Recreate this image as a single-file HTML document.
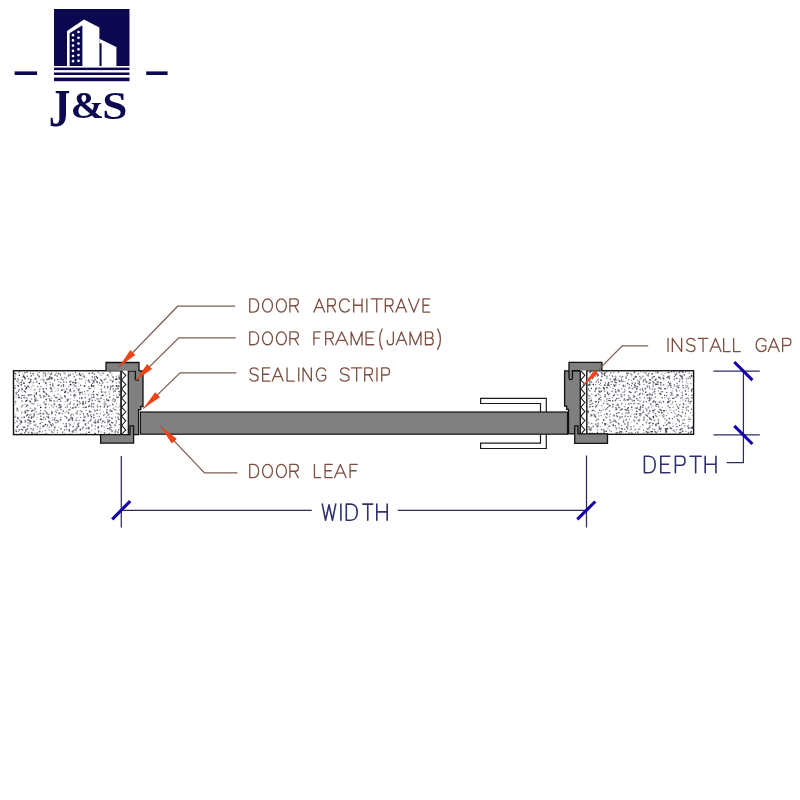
<!DOCTYPE html>
<html><head><meta charset="utf-8"><style>
html,body{margin:0;padding:0;background:#fff;}
body{width:800px;height:800px;overflow:hidden;font-family:"Liberation Sans",sans-serif;}
svg{display:block;filter:blur(0.35px);}
</style></head><body>
<svg width="800" height="800" viewBox="0 0 800 800">
<rect width="800" height="800" fill="#fff"/>
<g>
<rect x="54" y="9" width="75.5" height="57" fill="#0c0850"/>
<rect x="54" y="67.6" width="75.5" height="2.5" fill="#0c0850"/>
<rect x="54" y="72.5" width="75.5" height="2.5" fill="#0c0850"/>
<rect x="54" y="77.6" width="75.5" height="3.6" fill="#0c0850"/>
<rect x="14.6" y="71.4" width="22.5" height="3.6" fill="#0c0850"/>
<rect x="146.2" y="71.4" width="21.4" height="3.6" fill="#0c0850"/>
<path fill="#fff" d="M67,66.2 L67,31 L84,19.6 L99.4,27.6 L99.4,66.2 Z"/>
<path fill="#0c0850" d="M69.6,66 L69.6,33.2 L82.4,25.2 L82.4,66 Z"/>
<path fill="#fff" d="M99.4,66.2 L99.4,38.8 L116.4,47 L116.4,66.2 Z"/>
<path fill="#0c0850" d="M99.6,66 L99.6,43 L101.6,43.6 L101.6,66 Z"/>
<path fill="#fff" d="M71.65,35.20a1.35,1.35 0 1 0 2.7,0a1.35,1.35 0 1 0 -2.7,0M77.15,32.00a1.35,1.35 0 1 0 2.7,0a1.35,1.35 0 1 0 -2.7,0M71.65,40.40a1.35,1.35 0 1 0 2.7,0a1.35,1.35 0 1 0 -2.7,0M77.15,37.76a1.35,1.35 0 1 0 2.7,0a1.35,1.35 0 1 0 -2.7,0M71.65,45.60a1.35,1.35 0 1 0 2.7,0a1.35,1.35 0 1 0 -2.7,0M77.15,43.52a1.35,1.35 0 1 0 2.7,0a1.35,1.35 0 1 0 -2.7,0M71.65,50.80a1.35,1.35 0 1 0 2.7,0a1.35,1.35 0 1 0 -2.7,0M77.15,49.28a1.35,1.35 0 1 0 2.7,0a1.35,1.35 0 1 0 -2.7,0M71.65,56.00a1.35,1.35 0 1 0 2.7,0a1.35,1.35 0 1 0 -2.7,0M77.15,55.04a1.35,1.35 0 1 0 2.7,0a1.35,1.35 0 1 0 -2.7,0M71.65,61.20a1.35,1.35 0 1 0 2.7,0a1.35,1.35 0 1 0 -2.7,0M77.15,60.80a1.35,1.35 0 1 0 2.7,0a1.35,1.35 0 1 0 -2.7,0"/><g fill="#0c0850" font-family="Liberation Serif" font-weight="bold" font-size="100"><text transform="translate(48.87,126.06) scale(0.4326,0.524)">J</text><text transform="translate(70.71,118.01) scale(0.3986,0.3694)">&amp;</text><text transform="translate(102.34,118.5) scale(0.452,0.403)">S</text></g></g><rect x="13.5" y="370.75" width="107.5" height="63.85" fill="#fff" stroke="#111" stroke-width="1.4"/><path fill="none" stroke="#28283c" stroke-width="1.4" stroke-linecap="round" stroke-opacity="0.75" d="M15.9,373.9L14.4,373.0M18.5,386.2L17.8,385.3M18.3,418.8L17.4,417.3M21.9,388.4L22.3,389.4M21.4,429.4L22.9,429.9M20.7,434.2L21.3,433.4M25.4,378.2L24.9,379.0M25.5,392.1L24.2,390.9M24.7,427.3L23.1,427.1M25.9,431.3L25.8,429.6M28.3,395.5L29.4,394.7M27.6,405.1L26.7,406.0M27.0,410.3L28.5,410.8M27.9,414.4L26.6,415.7M27.8,419.8L29.5,420.3M29.8,401.1L30.6,401.9M32.7,410.3L31.4,411.1M31.4,418.3L31.8,416.8M31.0,421.2L29.8,421.5M31.7,432.5L32.4,434.1M35.1,379.1L35.4,378.1M34.6,396.8L34.3,395.5M35.5,400.3L34.9,401.4M34.4,414.0L34.1,415.2M39.2,377.1L39.0,376.0M40.5,419.0L41.8,419.5M44.9,396.4L43.6,395.9M42.9,426.7L44.0,425.5M47.9,379.0L46.8,379.7M46.0,393.4L46.9,394.9M46.7,412.4L46.9,413.7M49.8,378.4L48.5,379.3M49.8,400.6L51.1,400.5M48.9,418.1L48.1,416.7M50.8,374.6L51.6,373.2M51.3,378.9L52.5,378.0M52.8,384.9L52.9,386.0M50.8,388.1L51.6,389.3M52.2,412.6L51.7,413.7M51.7,426.0L50.8,424.6M55.6,397.5L57.1,397.6M57.9,385.6L59.1,384.9M58.5,399.4L59.8,399.3M59.5,404.3L59.0,405.4M58.1,421.2L56.8,420.4M63.4,384.6L63.6,386.2M68.1,399.8L67.3,400.9M69.7,382.0L70.8,381.2M70.9,390.9L69.5,390.9M69.4,429.5L69.2,431.2M73.9,382.6L72.5,382.5M74.8,394.4L73.7,395.6M73.7,407.9L72.3,408.0M72.6,420.3L72.1,419.1M72.1,431.7L73.3,432.1M75.3,380.5L75.9,379.2M77.5,405.4L77.5,404.3M76.3,428.8L75.9,430.1M81.0,375.5L79.4,374.7M78.3,390.4L79.1,389.1M80.4,392.7L79.4,392.2M78.7,426.4L78.2,425.2M80.7,429.2L80.1,430.2M83.2,403.1L83.3,401.5M83.1,404.8L82.6,403.4M83.9,419.8L83.1,420.9M85.0,407.2L86.4,407.3M84.0,417.4L85.2,416.9M85.2,424.9L85.6,423.6M88.7,379.9L88.3,380.9M89.8,399.8L89.1,399.0M88.4,401.8L89.2,401.2M89.4,411.1L90.0,412.2M88.5,432.4L89.5,432.2M94.9,379.0L95.1,380.0M94.0,382.2L93.3,380.7M94.0,385.8L93.1,386.4M94.3,422.4L95.7,423.0M97.1,377.6L96.3,376.4M96.7,381.5L97.5,382.5M96.6,394.4L97.9,395.0M98.5,422.6L97.4,422.0M98.6,426.5L98.0,427.4M98.5,432.0L98.8,431.0M101.9,381.0L100.7,379.8M100.5,420.0L101.0,419.0M104.6,406.0L104.2,407.0M106.9,400.1L108.3,400.7M107.3,407.1L108.0,406.0M106.8,412.0L107.0,413.5M110.7,386.2L110.9,387.2M108.5,421.8L109.7,420.6M109.9,427.7L110.0,429.5M112.9,376.9L113.4,377.7M112.3,382.1L113.2,380.9M112.1,411.6L111.2,410.8M112.8,422.9L111.6,422.5M119.5,377.5L119.2,379.1M120.4,391.4L118.9,391.8M119.9,394.0L119.4,395.0M118.3,397.2L116.9,397.5M119.1,419.4L118.1,418.9"/><path fill="#28283c" fill-opacity="0.5" d="M14.3,376.0a0.7,0.7 0 1 0 1.4,0a0.7,0.7 0 1 0 -1.4,0M14.5,385.8a0.7,0.7 0 1 0 1.4,0a0.7,0.7 0 1 0 -1.4,0M15.3,394.0a0.95,0.95 0 1 0 1.9,0a0.95,0.95 0 1 0 -1.9,0M14.6,401.8a0.95,0.95 0 1 0 1.9,0a0.95,0.95 0 1 0 -1.9,0M14.4,403.9a0.6,0.6 0 1 0 1.2,0a0.6,0.6 0 1 0 -1.2,0M15.1,414.8a0.6,0.6 0 1 0 1.2,0a0.6,0.6 0 1 0 -1.2,0M14.2,416.9a0.95,0.95 0 1 0 1.9,0a0.95,0.95 0 1 0 -1.9,0M14.5,422.8a0.7,0.7 0 1 0 1.4,0a0.7,0.7 0 1 0 -1.4,0M15.0,430.5a0.95,0.95 0 1 0 1.9,0a0.95,0.95 0 1 0 -1.9,0M17.7,410.1a0.7,0.7 0 1 0 1.4,0a0.7,0.7 0 1 0 -1.4,0M18.9,420.1a0.7,0.7 0 1 0 1.4,0a0.7,0.7 0 1 0 -1.4,0M19.3,423.9a0.85,0.85 0 1 0 1.7,0a0.85,0.85 0 1 0 -1.7,0M21.3,390.7a0.6,0.6 0 1 0 1.2,0a0.6,0.6 0 1 0 -1.2,0M20.6,406.7a0.85,0.85 0 1 0 1.7,0a0.85,0.85 0 1 0 -1.7,0M21.3,412.0a0.7,0.7 0 1 0 1.4,0a0.7,0.7 0 1 0 -1.4,0M20.9,413.1a0.8,0.8 0 1 0 1.6,0a0.8,0.8 0 1 0 -1.6,0M21.1,417.5a0.85,0.85 0 1 0 1.7,0a0.85,0.85 0 1 0 -1.7,0M24.0,372.7a0.95,0.95 0 1 0 1.9,0a0.95,0.95 0 1 0 -1.9,0M24.3,404.5a0.7,0.7 0 1 0 1.4,0a0.7,0.7 0 1 0 -1.4,0M26.4,376.2a0.85,0.85 0 1 0 1.7,0a0.85,0.85 0 1 0 -1.7,0M27.6,378.8a0.95,0.95 0 1 0 1.9,0a0.95,0.95 0 1 0 -1.9,0M28.5,387.7a0.6,0.6 0 1 0 1.2,0a0.6,0.6 0 1 0 -1.2,0M26.1,398.2a0.85,0.85 0 1 0 1.7,0a0.85,0.85 0 1 0 -1.7,0M27.2,422.9a0.8,0.8 0 1 0 1.6,0a0.8,0.8 0 1 0 -1.6,0M30.5,389.0a0.6,0.6 0 1 0 1.2,0a0.6,0.6 0 1 0 -1.2,0M30.8,399.1a0.85,0.85 0 1 0 1.7,0a0.85,0.85 0 1 0 -1.7,0M31.0,403.5a0.6,0.6 0 1 0 1.2,0a0.6,0.6 0 1 0 -1.2,0M32.6,375.2a0.6,0.6 0 1 0 1.2,0a0.6,0.6 0 1 0 -1.2,0M32.6,382.6a0.85,0.85 0 1 0 1.7,0a0.85,0.85 0 1 0 -1.7,0M34.0,399.2a0.85,0.85 0 1 0 1.7,0a0.85,0.85 0 1 0 -1.7,0M33.2,410.1a0.85,0.85 0 1 0 1.7,0a0.85,0.85 0 1 0 -1.7,0M33.5,422.1a0.6,0.6 0 1 0 1.2,0a0.6,0.6 0 1 0 -1.2,0M35.3,379.1a0.95,0.95 0 1 0 1.9,0a0.95,0.95 0 1 0 -1.9,0M36.9,386.6a0.85,0.85 0 1 0 1.7,0a0.85,0.85 0 1 0 -1.7,0M35.1,398.3a0.85,0.85 0 1 0 1.7,0a0.85,0.85 0 1 0 -1.7,0M37.1,405.2a0.8,0.8 0 1 0 1.6,0a0.8,0.8 0 1 0 -1.6,0M35.2,411.8a0.85,0.85 0 1 0 1.7,0a0.85,0.85 0 1 0 -1.7,0M36.5,417.2a0.6,0.6 0 1 0 1.2,0a0.6,0.6 0 1 0 -1.2,0M35.5,424.2a0.6,0.6 0 1 0 1.2,0a0.6,0.6 0 1 0 -1.2,0M38.3,372.7a0.8,0.8 0 1 0 1.6,0a0.8,0.8 0 1 0 -1.6,0M38.9,389.1a0.85,0.85 0 1 0 1.7,0a0.85,0.85 0 1 0 -1.7,0M38.5,391.3a0.95,0.95 0 1 0 1.9,0a0.95,0.95 0 1 0 -1.9,0M39.9,397.2a0.95,0.95 0 1 0 1.9,0a0.95,0.95 0 1 0 -1.9,0M39.6,404.9a0.6,0.6 0 1 0 1.2,0a0.6,0.6 0 1 0 -1.2,0M42.6,373.1a0.85,0.85 0 1 0 1.7,0a0.85,0.85 0 1 0 -1.7,0M42.6,376.0a0.7,0.7 0 1 0 1.4,0a0.7,0.7 0 1 0 -1.4,0M43.2,381.7a0.8,0.8 0 1 0 1.6,0a0.8,0.8 0 1 0 -1.6,0M42.6,397.6a0.7,0.7 0 1 0 1.4,0a0.7,0.7 0 1 0 -1.4,0M43.4,404.0a0.7,0.7 0 1 0 1.4,0a0.7,0.7 0 1 0 -1.4,0M45.4,401.1a0.6,0.6 0 1 0 1.2,0a0.6,0.6 0 1 0 -1.2,0M44.2,411.0a0.95,0.95 0 1 0 1.9,0a0.95,0.95 0 1 0 -1.9,0M45.9,417.0a0.8,0.8 0 1 0 1.6,0a0.8,0.8 0 1 0 -1.6,0M44.5,430.6a0.8,0.8 0 1 0 1.6,0a0.8,0.8 0 1 0 -1.6,0M49.5,387.6a0.95,0.95 0 1 0 1.9,0a0.95,0.95 0 1 0 -1.9,0M48.6,399.0a0.95,0.95 0 1 0 1.9,0a0.95,0.95 0 1 0 -1.9,0M48.1,404.2a0.6,0.6 0 1 0 1.2,0a0.6,0.6 0 1 0 -1.2,0M49.1,407.8a0.6,0.6 0 1 0 1.2,0a0.6,0.6 0 1 0 -1.2,0M48.4,427.2a0.8,0.8 0 1 0 1.6,0a0.8,0.8 0 1 0 -1.6,0M51.9,383.5a0.8,0.8 0 1 0 1.6,0a0.8,0.8 0 1 0 -1.6,0M51.1,405.4a0.8,0.8 0 1 0 1.6,0a0.8,0.8 0 1 0 -1.6,0M52.5,407.1a0.8,0.8 0 1 0 1.6,0a0.8,0.8 0 1 0 -1.6,0M50.9,411.6a0.85,0.85 0 1 0 1.7,0a0.85,0.85 0 1 0 -1.7,0M52.0,417.7a0.6,0.6 0 1 0 1.2,0a0.6,0.6 0 1 0 -1.2,0M50.7,430.7a0.6,0.6 0 1 0 1.2,0a0.6,0.6 0 1 0 -1.2,0M53.5,380.0a0.95,0.95 0 1 0 1.9,0a0.95,0.95 0 1 0 -1.9,0M55.3,391.1a0.6,0.6 0 1 0 1.2,0a0.6,0.6 0 1 0 -1.2,0M53.3,400.9a0.95,0.95 0 1 0 1.9,0a0.95,0.95 0 1 0 -1.9,0M54.3,418.0a0.85,0.85 0 1 0 1.7,0a0.85,0.85 0 1 0 -1.7,0M53.5,429.7a0.85,0.85 0 1 0 1.7,0a0.85,0.85 0 1 0 -1.7,0M56.2,375.9a0.95,0.95 0 1 0 1.9,0a0.95,0.95 0 1 0 -1.9,0M57.8,381.7a0.7,0.7 0 1 0 1.4,0a0.7,0.7 0 1 0 -1.4,0M57.4,388.7a0.6,0.6 0 1 0 1.2,0a0.6,0.6 0 1 0 -1.2,0M57.8,390.7a0.6,0.6 0 1 0 1.2,0a0.6,0.6 0 1 0 -1.2,0M57.7,394.3a0.8,0.8 0 1 0 1.6,0a0.8,0.8 0 1 0 -1.6,0M56.4,401.0a0.85,0.85 0 1 0 1.7,0a0.85,0.85 0 1 0 -1.7,0M56.4,410.1a0.8,0.8 0 1 0 1.6,0a0.8,0.8 0 1 0 -1.6,0M57.3,422.7a0.6,0.6 0 1 0 1.2,0a0.6,0.6 0 1 0 -1.2,0M58.5,427.5a0.6,0.6 0 1 0 1.2,0a0.6,0.6 0 1 0 -1.2,0M59.9,375.5a0.6,0.6 0 1 0 1.2,0a0.6,0.6 0 1 0 -1.2,0M59.8,382.5a0.8,0.8 0 1 0 1.6,0a0.8,0.8 0 1 0 -1.6,0M59.7,401.2a0.85,0.85 0 1 0 1.7,0a0.85,0.85 0 1 0 -1.7,0M59.9,409.5a0.95,0.95 0 1 0 1.9,0a0.95,0.95 0 1 0 -1.9,0M61.3,413.5a0.85,0.85 0 1 0 1.7,0a0.85,0.85 0 1 0 -1.7,0M59.8,417.4a0.7,0.7 0 1 0 1.4,0a0.7,0.7 0 1 0 -1.4,0M63.9,377.4a0.6,0.6 0 1 0 1.2,0a0.6,0.6 0 1 0 -1.2,0M62.8,381.9a0.85,0.85 0 1 0 1.7,0a0.85,0.85 0 1 0 -1.7,0M64.3,397.1a0.95,0.95 0 1 0 1.9,0a0.95,0.95 0 1 0 -1.9,0M64.7,401.7a0.6,0.6 0 1 0 1.2,0a0.6,0.6 0 1 0 -1.2,0M63.6,404.5a0.6,0.6 0 1 0 1.2,0a0.6,0.6 0 1 0 -1.2,0M64.5,412.7a0.6,0.6 0 1 0 1.2,0a0.6,0.6 0 1 0 -1.2,0M62.7,423.5a0.7,0.7 0 1 0 1.4,0a0.7,0.7 0 1 0 -1.4,0M65.4,378.1a0.95,0.95 0 1 0 1.9,0a0.95,0.95 0 1 0 -1.9,0M65.5,382.2a0.85,0.85 0 1 0 1.7,0a0.85,0.85 0 1 0 -1.7,0M67.9,386.1a0.7,0.7 0 1 0 1.4,0a0.7,0.7 0 1 0 -1.4,0M67.1,392.6a0.85,0.85 0 1 0 1.7,0a0.85,0.85 0 1 0 -1.7,0M66.4,399.4a0.95,0.95 0 1 0 1.9,0a0.95,0.95 0 1 0 -1.9,0M66.0,411.6a0.8,0.8 0 1 0 1.6,0a0.8,0.8 0 1 0 -1.6,0M65.8,429.4a0.85,0.85 0 1 0 1.7,0a0.85,0.85 0 1 0 -1.7,0M69.8,373.9a0.7,0.7 0 1 0 1.4,0a0.7,0.7 0 1 0 -1.4,0M69.7,407.3a0.6,0.6 0 1 0 1.2,0a0.6,0.6 0 1 0 -1.2,0M69.0,425.7a0.8,0.8 0 1 0 1.6,0a0.8,0.8 0 1 0 -1.6,0M69.6,433.6a0.7,0.7 0 1 0 1.4,0a0.7,0.7 0 1 0 -1.4,0M72.4,374.2a0.7,0.7 0 1 0 1.4,0a0.7,0.7 0 1 0 -1.4,0M72.2,388.0a0.6,0.6 0 1 0 1.2,0a0.6,0.6 0 1 0 -1.2,0M73.6,397.0a0.85,0.85 0 1 0 1.7,0a0.85,0.85 0 1 0 -1.7,0M73.2,400.5a0.6,0.6 0 1 0 1.2,0a0.6,0.6 0 1 0 -1.2,0M73.6,422.8a0.6,0.6 0 1 0 1.2,0a0.6,0.6 0 1 0 -1.2,0M76.1,375.0a0.85,0.85 0 1 0 1.7,0a0.85,0.85 0 1 0 -1.7,0M76.4,388.6a0.6,0.6 0 1 0 1.2,0a0.6,0.6 0 1 0 -1.2,0M74.5,395.6a0.95,0.95 0 1 0 1.9,0a0.95,0.95 0 1 0 -1.9,0M76.3,418.0a0.7,0.7 0 1 0 1.4,0a0.7,0.7 0 1 0 -1.4,0M76.8,424.2a0.85,0.85 0 1 0 1.7,0a0.85,0.85 0 1 0 -1.7,0M78.2,383.1a0.6,0.6 0 1 0 1.2,0a0.6,0.6 0 1 0 -1.2,0M78.4,401.8a0.95,0.95 0 1 0 1.9,0a0.95,0.95 0 1 0 -1.9,0M78.1,407.1a0.7,0.7 0 1 0 1.4,0a0.7,0.7 0 1 0 -1.4,0M79.6,410.9a0.8,0.8 0 1 0 1.6,0a0.8,0.8 0 1 0 -1.6,0M79.3,414.3a0.8,0.8 0 1 0 1.6,0a0.8,0.8 0 1 0 -1.6,0M77.8,423.2a0.95,0.95 0 1 0 1.9,0a0.95,0.95 0 1 0 -1.9,0M79.8,433.5a0.6,0.6 0 1 0 1.2,0a0.6,0.6 0 1 0 -1.2,0M80.9,379.0a0.85,0.85 0 1 0 1.7,0a0.85,0.85 0 1 0 -1.7,0M81.0,411.7a0.85,0.85 0 1 0 1.7,0a0.85,0.85 0 1 0 -1.7,0M82.2,428.9a0.6,0.6 0 1 0 1.2,0a0.6,0.6 0 1 0 -1.2,0M82.2,433.6a0.6,0.6 0 1 0 1.2,0a0.6,0.6 0 1 0 -1.2,0M85.2,380.4a0.7,0.7 0 1 0 1.4,0a0.7,0.7 0 1 0 -1.4,0M84.7,382.8a0.8,0.8 0 1 0 1.6,0a0.8,0.8 0 1 0 -1.6,0M83.6,391.5a0.8,0.8 0 1 0 1.6,0a0.8,0.8 0 1 0 -1.6,0M84.4,394.0a0.7,0.7 0 1 0 1.4,0a0.7,0.7 0 1 0 -1.4,0M85.1,401.6a0.8,0.8 0 1 0 1.6,0a0.8,0.8 0 1 0 -1.6,0M85.5,410.4a0.7,0.7 0 1 0 1.4,0a0.7,0.7 0 1 0 -1.4,0M85.9,425.5a0.6,0.6 0 1 0 1.2,0a0.6,0.6 0 1 0 -1.2,0M85.5,428.5a0.95,0.95 0 1 0 1.9,0a0.95,0.95 0 1 0 -1.9,0M87.6,394.8a0.85,0.85 0 1 0 1.7,0a0.85,0.85 0 1 0 -1.7,0M91.1,379.8a0.8,0.8 0 1 0 1.6,0a0.8,0.8 0 1 0 -1.6,0M90.1,388.4a0.7,0.7 0 1 0 1.4,0a0.7,0.7 0 1 0 -1.4,0M92.1,392.8a0.6,0.6 0 1 0 1.2,0a0.6,0.6 0 1 0 -1.2,0M90.6,394.8a0.8,0.8 0 1 0 1.6,0a0.8,0.8 0 1 0 -1.6,0M91.2,400.5a0.95,0.95 0 1 0 1.9,0a0.95,0.95 0 1 0 -1.9,0M90.0,419.5a0.95,0.95 0 1 0 1.9,0a0.95,0.95 0 1 0 -1.9,0M91.0,430.6a0.6,0.6 0 1 0 1.2,0a0.6,0.6 0 1 0 -1.2,0M93.6,388.0a0.6,0.6 0 1 0 1.2,0a0.6,0.6 0 1 0 -1.2,0M94.3,400.4a0.8,0.8 0 1 0 1.6,0a0.8,0.8 0 1 0 -1.6,0M92.6,404.0a0.95,0.95 0 1 0 1.9,0a0.95,0.95 0 1 0 -1.9,0M92.6,406.9a0.85,0.85 0 1 0 1.7,0a0.85,0.85 0 1 0 -1.7,0M94.3,429.1a0.8,0.8 0 1 0 1.6,0a0.8,0.8 0 1 0 -1.6,0M98.1,392.3a0.6,0.6 0 1 0 1.2,0a0.6,0.6 0 1 0 -1.2,0M97.3,401.1a0.8,0.8 0 1 0 1.6,0a0.8,0.8 0 1 0 -1.6,0M96.7,404.9a0.6,0.6 0 1 0 1.2,0a0.6,0.6 0 1 0 -1.2,0M97.5,428.8a0.8,0.8 0 1 0 1.6,0a0.8,0.8 0 1 0 -1.6,0M99.1,373.8a0.7,0.7 0 1 0 1.4,0a0.7,0.7 0 1 0 -1.4,0M100.3,389.6a0.95,0.95 0 1 0 1.9,0a0.95,0.95 0 1 0 -1.9,0M99.8,413.5a0.7,0.7 0 1 0 1.4,0a0.7,0.7 0 1 0 -1.4,0M98.7,416.6a0.8,0.8 0 1 0 1.6,0a0.8,0.8 0 1 0 -1.6,0M101.1,423.0a0.7,0.7 0 1 0 1.4,0a0.7,0.7 0 1 0 -1.4,0M103.2,399.4a0.7,0.7 0 1 0 1.4,0a0.7,0.7 0 1 0 -1.4,0M104.0,401.7a0.85,0.85 0 1 0 1.7,0a0.85,0.85 0 1 0 -1.7,0M102.7,411.9a0.7,0.7 0 1 0 1.4,0a0.7,0.7 0 1 0 -1.4,0M103.3,427.1a0.8,0.8 0 1 0 1.6,0a0.8,0.8 0 1 0 -1.6,0M103.8,430.5a0.6,0.6 0 1 0 1.2,0a0.6,0.6 0 1 0 -1.2,0M106.6,382.2a0.8,0.8 0 1 0 1.6,0a0.8,0.8 0 1 0 -1.6,0M105.5,395.9a0.7,0.7 0 1 0 1.4,0a0.7,0.7 0 1 0 -1.4,0M105.4,403.7a0.7,0.7 0 1 0 1.4,0a0.7,0.7 0 1 0 -1.4,0M109.1,372.3a0.95,0.95 0 1 0 1.9,0a0.95,0.95 0 1 0 -1.9,0M107.9,400.3a0.95,0.95 0 1 0 1.9,0a0.95,0.95 0 1 0 -1.9,0M108.4,417.3a0.85,0.85 0 1 0 1.7,0a0.85,0.85 0 1 0 -1.7,0M111.2,380.5a0.6,0.6 0 1 0 1.2,0a0.6,0.6 0 1 0 -1.2,0M111.1,431.6a0.95,0.95 0 1 0 1.9,0a0.95,0.95 0 1 0 -1.9,0M115.7,376.5a0.7,0.7 0 1 0 1.4,0a0.7,0.7 0 1 0 -1.4,0M115.7,383.1a0.7,0.7 0 1 0 1.4,0a0.7,0.7 0 1 0 -1.4,0M116.2,394.9a0.6,0.6 0 1 0 1.2,0a0.6,0.6 0 1 0 -1.2,0M116.0,403.4a0.6,0.6 0 1 0 1.2,0a0.6,0.6 0 1 0 -1.2,0M115.5,406.8a0.7,0.7 0 1 0 1.4,0a0.7,0.7 0 1 0 -1.4,0M116.2,413.5a0.7,0.7 0 1 0 1.4,0a0.7,0.7 0 1 0 -1.4,0M115.5,423.2a0.6,0.6 0 1 0 1.2,0a0.6,0.6 0 1 0 -1.2,0M119.3,374.0a0.6,0.6 0 1 0 1.2,0a0.6,0.6 0 1 0 -1.2,0M119.3,404.8a0.7,0.7 0 1 0 1.4,0a0.7,0.7 0 1 0 -1.4,0M118.8,410.1a0.6,0.6 0 1 0 1.2,0a0.6,0.6 0 1 0 -1.2,0M117.0,417.1a0.95,0.95 0 1 0 1.9,0a0.95,0.95 0 1 0 -1.9,0M118.5,424.5a0.85,0.85 0 1 0 1.7,0a0.85,0.85 0 1 0 -1.7,0M119.3,427.5a0.6,0.6 0 1 0 1.2,0a0.6,0.6 0 1 0 -1.2,0"/><path fill="#28283c" fill-opacity="0.75" d="M14.2,378.7a0.95,0.95 0 1 0 1.9,0a0.95,0.95 0 1 0 -1.9,0M15.4,397.0a0.6,0.6 0 1 0 1.2,0a0.6,0.6 0 1 0 -1.2,0M16.4,408.4a0.8,0.8 0 1 0 1.6,0a0.8,0.8 0 1 0 -1.6,0M16.2,426.9a0.95,0.95 0 1 0 1.9,0a0.95,0.95 0 1 0 -1.9,0M18.3,389.8a0.8,0.8 0 1 0 1.6,0a0.8,0.8 0 1 0 -1.6,0M17.9,391.2a0.7,0.7 0 1 0 1.4,0a0.7,0.7 0 1 0 -1.4,0M17.6,395.1a0.8,0.8 0 1 0 1.6,0a0.8,0.8 0 1 0 -1.6,0M17.5,425.5a0.7,0.7 0 1 0 1.4,0a0.7,0.7 0 1 0 -1.4,0M18.5,429.8a0.85,0.85 0 1 0 1.7,0a0.85,0.85 0 1 0 -1.7,0M17.5,431.5a0.6,0.6 0 1 0 1.2,0a0.6,0.6 0 1 0 -1.2,0M21.6,377.0a0.6,0.6 0 1 0 1.2,0a0.6,0.6 0 1 0 -1.2,0M21.4,380.4a0.85,0.85 0 1 0 1.7,0a0.85,0.85 0 1 0 -1.7,0M20.4,382.5a0.85,0.85 0 1 0 1.7,0a0.85,0.85 0 1 0 -1.7,0M20.3,384.7a0.95,0.95 0 1 0 1.9,0a0.95,0.95 0 1 0 -1.9,0M21.2,395.5a0.85,0.85 0 1 0 1.7,0a0.85,0.85 0 1 0 -1.7,0M20.6,398.2a0.8,0.8 0 1 0 1.6,0a0.8,0.8 0 1 0 -1.6,0M22.0,405.5a0.7,0.7 0 1 0 1.4,0a0.7,0.7 0 1 0 -1.4,0M20.7,422.4a0.85,0.85 0 1 0 1.7,0a0.85,0.85 0 1 0 -1.7,0M24.1,386.0a0.85,0.85 0 1 0 1.7,0a0.85,0.85 0 1 0 -1.7,0M23.2,395.5a0.85,0.85 0 1 0 1.7,0a0.85,0.85 0 1 0 -1.7,0M24.5,412.7a0.95,0.95 0 1 0 1.9,0a0.95,0.95 0 1 0 -1.9,0M23.3,417.1a0.95,0.95 0 1 0 1.9,0a0.95,0.95 0 1 0 -1.9,0M24.4,422.2a0.6,0.6 0 1 0 1.2,0a0.6,0.6 0 1 0 -1.2,0M24.0,432.7a0.8,0.8 0 1 0 1.6,0a0.8,0.8 0 1 0 -1.6,0M26.3,372.2a0.8,0.8 0 1 0 1.6,0a0.8,0.8 0 1 0 -1.6,0M27.9,417.4a0.95,0.95 0 1 0 1.9,0a0.95,0.95 0 1 0 -1.9,0M27.0,425.8a0.85,0.85 0 1 0 1.7,0a0.85,0.85 0 1 0 -1.7,0M26.4,428.9a0.85,0.85 0 1 0 1.7,0a0.85,0.85 0 1 0 -1.7,0M29.9,373.2a0.6,0.6 0 1 0 1.2,0a0.6,0.6 0 1 0 -1.2,0M30.4,375.9a0.8,0.8 0 1 0 1.6,0a0.8,0.8 0 1 0 -1.6,0M29.8,379.8a0.95,0.95 0 1 0 1.9,0a0.95,0.95 0 1 0 -1.9,0M29.7,381.9a0.85,0.85 0 1 0 1.7,0a0.85,0.85 0 1 0 -1.7,0M32.2,373.5a0.85,0.85 0 1 0 1.7,0a0.85,0.85 0 1 0 -1.7,0M32.9,421.4a0.95,0.95 0 1 0 1.9,0a0.95,0.95 0 1 0 -1.9,0M37.1,374.1a0.6,0.6 0 1 0 1.2,0a0.6,0.6 0 1 0 -1.2,0M36.9,375.1a0.6,0.6 0 1 0 1.2,0a0.6,0.6 0 1 0 -1.2,0M36.1,381.9a0.8,0.8 0 1 0 1.6,0a0.8,0.8 0 1 0 -1.6,0M35.7,392.5a0.7,0.7 0 1 0 1.4,0a0.7,0.7 0 1 0 -1.4,0M35.3,394.0a0.95,0.95 0 1 0 1.9,0a0.95,0.95 0 1 0 -1.9,0M37.4,414.2a0.7,0.7 0 1 0 1.4,0a0.7,0.7 0 1 0 -1.4,0M37.0,426.8a0.8,0.8 0 1 0 1.6,0a0.8,0.8 0 1 0 -1.6,0M36.2,433.0a0.85,0.85 0 1 0 1.7,0a0.85,0.85 0 1 0 -1.7,0M40.3,386.7a0.6,0.6 0 1 0 1.2,0a0.6,0.6 0 1 0 -1.2,0M39.2,395.4a0.8,0.8 0 1 0 1.6,0a0.8,0.8 0 1 0 -1.6,0M40.1,410.6a0.7,0.7 0 1 0 1.4,0a0.7,0.7 0 1 0 -1.4,0M39.3,413.4a0.95,0.95 0 1 0 1.9,0a0.95,0.95 0 1 0 -1.9,0M40.0,416.3a0.8,0.8 0 1 0 1.6,0a0.8,0.8 0 1 0 -1.6,0M39.4,423.4a0.85,0.85 0 1 0 1.7,0a0.85,0.85 0 1 0 -1.7,0M39.4,428.5a0.7,0.7 0 1 0 1.4,0a0.7,0.7 0 1 0 -1.4,0M38.7,431.5a0.95,0.95 0 1 0 1.9,0a0.95,0.95 0 1 0 -1.9,0M42.3,388.9a0.85,0.85 0 1 0 1.7,0a0.85,0.85 0 1 0 -1.7,0M43.5,402.2a0.7,0.7 0 1 0 1.4,0a0.7,0.7 0 1 0 -1.4,0M42.4,413.8a0.95,0.95 0 1 0 1.9,0a0.95,0.95 0 1 0 -1.9,0M43.0,417.2a0.8,0.8 0 1 0 1.6,0a0.8,0.8 0 1 0 -1.6,0M41.5,422.2a0.6,0.6 0 1 0 1.2,0a0.6,0.6 0 1 0 -1.2,0M41.9,431.8a0.6,0.6 0 1 0 1.2,0a0.6,0.6 0 1 0 -1.2,0M44.9,383.0a0.95,0.95 0 1 0 1.9,0a0.95,0.95 0 1 0 -1.9,0M45.3,399.4a0.95,0.95 0 1 0 1.9,0a0.95,0.95 0 1 0 -1.9,0M44.8,404.3a0.95,0.95 0 1 0 1.9,0a0.95,0.95 0 1 0 -1.9,0M44.6,407.5a0.95,0.95 0 1 0 1.9,0a0.95,0.95 0 1 0 -1.9,0M44.7,419.3a0.7,0.7 0 1 0 1.4,0a0.7,0.7 0 1 0 -1.4,0M45.3,433.5a0.7,0.7 0 1 0 1.4,0a0.7,0.7 0 1 0 -1.4,0M48.7,377.1a0.95,0.95 0 1 0 1.9,0a0.95,0.95 0 1 0 -1.9,0M49.5,382.4a0.6,0.6 0 1 0 1.2,0a0.6,0.6 0 1 0 -1.2,0M49.5,384.8a0.8,0.8 0 1 0 1.6,0a0.8,0.8 0 1 0 -1.6,0M48.0,395.9a0.85,0.85 0 1 0 1.7,0a0.85,0.85 0 1 0 -1.7,0M48.1,421.4a0.95,0.95 0 1 0 1.9,0a0.95,0.95 0 1 0 -1.9,0M49.1,422.6a0.85,0.85 0 1 0 1.7,0a0.85,0.85 0 1 0 -1.7,0M48.6,429.9a0.6,0.6 0 1 0 1.2,0a0.6,0.6 0 1 0 -1.2,0M54.3,375.0a0.85,0.85 0 1 0 1.7,0a0.85,0.85 0 1 0 -1.7,0M53.6,395.7a0.8,0.8 0 1 0 1.6,0a0.8,0.8 0 1 0 -1.6,0M53.3,404.1a0.95,0.95 0 1 0 1.9,0a0.95,0.95 0 1 0 -1.9,0M55.7,406.6a0.7,0.7 0 1 0 1.4,0a0.7,0.7 0 1 0 -1.4,0M55.0,414.8a0.6,0.6 0 1 0 1.2,0a0.6,0.6 0 1 0 -1.2,0M55.3,422.8a0.7,0.7 0 1 0 1.4,0a0.7,0.7 0 1 0 -1.4,0M53.8,427.3a0.95,0.95 0 1 0 1.9,0a0.95,0.95 0 1 0 -1.9,0M57.7,373.5a0.85,0.85 0 1 0 1.7,0a0.85,0.85 0 1 0 -1.7,0M56.9,379.5a0.8,0.8 0 1 0 1.6,0a0.8,0.8 0 1 0 -1.6,0M58.4,413.3a0.95,0.95 0 1 0 1.9,0a0.95,0.95 0 1 0 -1.9,0M56.9,430.4a0.6,0.6 0 1 0 1.2,0a0.6,0.6 0 1 0 -1.2,0M56.9,432.6a0.6,0.6 0 1 0 1.2,0a0.6,0.6 0 1 0 -1.2,0M59.5,374.3a0.8,0.8 0 1 0 1.6,0a0.8,0.8 0 1 0 -1.6,0M60.7,386.0a0.7,0.7 0 1 0 1.4,0a0.7,0.7 0 1 0 -1.4,0M60.2,396.0a0.6,0.6 0 1 0 1.2,0a0.6,0.6 0 1 0 -1.2,0M59.9,406.9a0.95,0.95 0 1 0 1.9,0a0.95,0.95 0 1 0 -1.9,0M59.6,419.8a0.95,0.95 0 1 0 1.9,0a0.95,0.95 0 1 0 -1.9,0M60.2,428.9a0.8,0.8 0 1 0 1.6,0a0.8,0.8 0 1 0 -1.6,0M61.7,432.2a0.6,0.6 0 1 0 1.2,0a0.6,0.6 0 1 0 -1.2,0M63.5,389.9a0.6,0.6 0 1 0 1.2,0a0.6,0.6 0 1 0 -1.2,0M63.9,395.9a0.95,0.95 0 1 0 1.9,0a0.95,0.95 0 1 0 -1.9,0M65.0,407.5a0.6,0.6 0 1 0 1.2,0a0.6,0.6 0 1 0 -1.2,0M62.5,411.1a0.8,0.8 0 1 0 1.6,0a0.8,0.8 0 1 0 -1.6,0M63.8,430.0a0.7,0.7 0 1 0 1.4,0a0.7,0.7 0 1 0 -1.4,0M65.9,389.0a0.8,0.8 0 1 0 1.6,0a0.8,0.8 0 1 0 -1.6,0M67.0,404.8a0.6,0.6 0 1 0 1.2,0a0.6,0.6 0 1 0 -1.2,0M66.5,406.8a0.8,0.8 0 1 0 1.6,0a0.8,0.8 0 1 0 -1.6,0M67.7,413.1a0.85,0.85 0 1 0 1.7,0a0.85,0.85 0 1 0 -1.7,0M66.0,418.0a0.8,0.8 0 1 0 1.6,0a0.8,0.8 0 1 0 -1.6,0M67.7,420.2a0.95,0.95 0 1 0 1.9,0a0.95,0.95 0 1 0 -1.9,0M65.4,423.8a0.85,0.85 0 1 0 1.7,0a0.85,0.85 0 1 0 -1.7,0M65.6,426.1a0.85,0.85 0 1 0 1.7,0a0.85,0.85 0 1 0 -1.7,0M69.2,375.4a0.8,0.8 0 1 0 1.6,0a0.8,0.8 0 1 0 -1.6,0M69.4,389.5a0.8,0.8 0 1 0 1.6,0a0.8,0.8 0 1 0 -1.6,0M70.1,395.1a0.7,0.7 0 1 0 1.4,0a0.7,0.7 0 1 0 -1.4,0M69.7,402.1a0.6,0.6 0 1 0 1.2,0a0.6,0.6 0 1 0 -1.2,0M73.5,376.7a0.8,0.8 0 1 0 1.6,0a0.8,0.8 0 1 0 -1.6,0M73.0,415.0a0.6,0.6 0 1 0 1.2,0a0.6,0.6 0 1 0 -1.2,0M71.4,417.9a0.95,0.95 0 1 0 1.9,0a0.95,0.95 0 1 0 -1.9,0M72.2,426.5a0.85,0.85 0 1 0 1.7,0a0.85,0.85 0 1 0 -1.7,0M75.0,372.6a0.7,0.7 0 1 0 1.4,0a0.7,0.7 0 1 0 -1.4,0M76.4,400.9a0.8,0.8 0 1 0 1.6,0a0.8,0.8 0 1 0 -1.6,0M74.7,407.3a0.95,0.95 0 1 0 1.9,0a0.95,0.95 0 1 0 -1.9,0M75.5,432.0a0.6,0.6 0 1 0 1.2,0a0.6,0.6 0 1 0 -1.2,0M79.0,378.8a0.8,0.8 0 1 0 1.6,0a0.8,0.8 0 1 0 -1.6,0M79.9,385.3a0.7,0.7 0 1 0 1.4,0a0.7,0.7 0 1 0 -1.4,0M78.9,394.0a0.85,0.85 0 1 0 1.7,0a0.85,0.85 0 1 0 -1.7,0M78.9,398.2a0.6,0.6 0 1 0 1.2,0a0.6,0.6 0 1 0 -1.2,0M80.0,417.6a0.6,0.6 0 1 0 1.2,0a0.6,0.6 0 1 0 -1.2,0M78.5,420.4a0.6,0.6 0 1 0 1.2,0a0.6,0.6 0 1 0 -1.2,0M82.1,373.9a0.7,0.7 0 1 0 1.4,0a0.7,0.7 0 1 0 -1.4,0M82.1,394.1a0.6,0.6 0 1 0 1.2,0a0.6,0.6 0 1 0 -1.2,0M80.8,398.0a0.95,0.95 0 1 0 1.9,0a0.95,0.95 0 1 0 -1.9,0M82.5,407.6a0.7,0.7 0 1 0 1.4,0a0.7,0.7 0 1 0 -1.4,0M84.4,397.8a0.8,0.8 0 1 0 1.6,0a0.8,0.8 0 1 0 -1.6,0M84.7,403.3a0.8,0.8 0 1 0 1.6,0a0.8,0.8 0 1 0 -1.6,0M84.1,420.8a0.7,0.7 0 1 0 1.4,0a0.7,0.7 0 1 0 -1.4,0M88.4,373.4a0.8,0.8 0 1 0 1.6,0a0.8,0.8 0 1 0 -1.6,0M88.7,381.9a0.8,0.8 0 1 0 1.6,0a0.8,0.8 0 1 0 -1.6,0M88.1,386.6a0.7,0.7 0 1 0 1.4,0a0.7,0.7 0 1 0 -1.4,0M88.4,388.6a0.85,0.85 0 1 0 1.7,0a0.85,0.85 0 1 0 -1.7,0M87.8,406.6a0.8,0.8 0 1 0 1.6,0a0.8,0.8 0 1 0 -1.6,0M86.6,413.9a0.85,0.85 0 1 0 1.7,0a0.85,0.85 0 1 0 -1.7,0M87.3,415.9a0.85,0.85 0 1 0 1.7,0a0.85,0.85 0 1 0 -1.7,0M87.6,423.1a0.7,0.7 0 1 0 1.4,0a0.7,0.7 0 1 0 -1.4,0M87.6,427.7a0.95,0.95 0 1 0 1.9,0a0.95,0.95 0 1 0 -1.9,0M88.0,428.6a0.95,0.95 0 1 0 1.9,0a0.95,0.95 0 1 0 -1.9,0M91.5,373.1a0.95,0.95 0 1 0 1.9,0a0.95,0.95 0 1 0 -1.9,0M91.5,377.1a0.8,0.8 0 1 0 1.6,0a0.8,0.8 0 1 0 -1.6,0M91.8,383.2a0.8,0.8 0 1 0 1.6,0a0.8,0.8 0 1 0 -1.6,0M90.8,403.8a0.8,0.8 0 1 0 1.6,0a0.8,0.8 0 1 0 -1.6,0M90.4,411.6a0.6,0.6 0 1 0 1.2,0a0.6,0.6 0 1 0 -1.2,0M89.9,415.0a0.8,0.8 0 1 0 1.6,0a0.8,0.8 0 1 0 -1.6,0M93.8,374.3a0.7,0.7 0 1 0 1.4,0a0.7,0.7 0 1 0 -1.4,0M93.9,377.0a0.7,0.7 0 1 0 1.4,0a0.7,0.7 0 1 0 -1.4,0M92.8,391.6a0.8,0.8 0 1 0 1.6,0a0.8,0.8 0 1 0 -1.6,0M92.7,394.6a0.85,0.85 0 1 0 1.7,0a0.85,0.85 0 1 0 -1.7,0M92.9,397.1a0.95,0.95 0 1 0 1.9,0a0.95,0.95 0 1 0 -1.9,0M93.1,417.6a0.8,0.8 0 1 0 1.6,0a0.8,0.8 0 1 0 -1.6,0M94.7,425.9a0.7,0.7 0 1 0 1.4,0a0.7,0.7 0 1 0 -1.4,0M97.4,372.3a0.7,0.7 0 1 0 1.4,0a0.7,0.7 0 1 0 -1.4,0M96.8,378.1a0.85,0.85 0 1 0 1.7,0a0.85,0.85 0 1 0 -1.7,0M96.3,410.1a0.95,0.95 0 1 0 1.9,0a0.95,0.95 0 1 0 -1.9,0M100.6,375.1a0.6,0.6 0 1 0 1.2,0a0.6,0.6 0 1 0 -1.2,0M98.9,383.0a0.8,0.8 0 1 0 1.6,0a0.8,0.8 0 1 0 -1.6,0M100.5,385.6a0.8,0.8 0 1 0 1.6,0a0.8,0.8 0 1 0 -1.6,0M100.8,391.9a0.95,0.95 0 1 0 1.9,0a0.95,0.95 0 1 0 -1.9,0M101.0,395.8a0.8,0.8 0 1 0 1.6,0a0.8,0.8 0 1 0 -1.6,0M100.0,398.3a0.85,0.85 0 1 0 1.7,0a0.85,0.85 0 1 0 -1.7,0M98.7,401.7a0.85,0.85 0 1 0 1.7,0a0.85,0.85 0 1 0 -1.7,0M99.6,406.6a0.8,0.8 0 1 0 1.6,0a0.8,0.8 0 1 0 -1.6,0M102.3,373.2a0.8,0.8 0 1 0 1.6,0a0.8,0.8 0 1 0 -1.6,0M103.6,379.8a0.7,0.7 0 1 0 1.4,0a0.7,0.7 0 1 0 -1.4,0M104.1,386.4a0.6,0.6 0 1 0 1.2,0a0.6,0.6 0 1 0 -1.2,0M104.2,387.7a0.6,0.6 0 1 0 1.2,0a0.6,0.6 0 1 0 -1.2,0M101.9,395.3a0.95,0.95 0 1 0 1.9,0a0.95,0.95 0 1 0 -1.9,0M102.1,421.2a0.85,0.85 0 1 0 1.7,0a0.85,0.85 0 1 0 -1.7,0M103.8,422.2a0.8,0.8 0 1 0 1.6,0a0.8,0.8 0 1 0 -1.6,0M103.7,432.9a0.8,0.8 0 1 0 1.6,0a0.8,0.8 0 1 0 -1.6,0M106.7,375.2a0.95,0.95 0 1 0 1.9,0a0.95,0.95 0 1 0 -1.9,0M106.9,386.2a0.7,0.7 0 1 0 1.4,0a0.7,0.7 0 1 0 -1.4,0M106.9,387.8a0.8,0.8 0 1 0 1.6,0a0.8,0.8 0 1 0 -1.6,0M104.8,392.1a0.7,0.7 0 1 0 1.4,0a0.7,0.7 0 1 0 -1.4,0M106.1,399.2a0.6,0.6 0 1 0 1.2,0a0.6,0.6 0 1 0 -1.2,0M106.2,409.8a0.8,0.8 0 1 0 1.6,0a0.8,0.8 0 1 0 -1.6,0M105.6,417.2a0.7,0.7 0 1 0 1.4,0a0.7,0.7 0 1 0 -1.4,0M107.2,422.7a0.6,0.6 0 1 0 1.2,0a0.6,0.6 0 1 0 -1.2,0M106.3,425.8a0.6,0.6 0 1 0 1.2,0a0.6,0.6 0 1 0 -1.2,0M107.0,428.5a0.85,0.85 0 1 0 1.7,0a0.85,0.85 0 1 0 -1.7,0M109.6,380.0a0.7,0.7 0 1 0 1.4,0a0.7,0.7 0 1 0 -1.4,0M109.5,389.1a0.8,0.8 0 1 0 1.6,0a0.8,0.8 0 1 0 -1.6,0M109.0,394.1a0.6,0.6 0 1 0 1.2,0a0.6,0.6 0 1 0 -1.2,0M108.9,397.1a0.8,0.8 0 1 0 1.6,0a0.8,0.8 0 1 0 -1.6,0M109.4,405.6a0.7,0.7 0 1 0 1.4,0a0.7,0.7 0 1 0 -1.4,0M109.0,424.4a0.85,0.85 0 1 0 1.7,0a0.85,0.85 0 1 0 -1.7,0M109.9,425.6a0.7,0.7 0 1 0 1.4,0a0.7,0.7 0 1 0 -1.4,0M108.8,433.5a0.7,0.7 0 1 0 1.4,0a0.7,0.7 0 1 0 -1.4,0M111.8,385.9a0.95,0.95 0 1 0 1.9,0a0.95,0.95 0 1 0 -1.9,0M112.9,391.8a0.6,0.6 0 1 0 1.2,0a0.6,0.6 0 1 0 -1.2,0M113.3,395.3a0.6,0.6 0 1 0 1.2,0a0.6,0.6 0 1 0 -1.2,0M111.9,404.4a0.85,0.85 0 1 0 1.7,0a0.85,0.85 0 1 0 -1.7,0M112.8,408.2a0.6,0.6 0 1 0 1.2,0a0.6,0.6 0 1 0 -1.2,0M111.1,418.2a0.85,0.85 0 1 0 1.7,0a0.85,0.85 0 1 0 -1.7,0M110.8,427.1a0.7,0.7 0 1 0 1.4,0a0.7,0.7 0 1 0 -1.4,0M114.1,390.9a0.85,0.85 0 1 0 1.7,0a0.85,0.85 0 1 0 -1.7,0M114.4,399.4a0.6,0.6 0 1 0 1.2,0a0.6,0.6 0 1 0 -1.2,0M114.8,417.1a0.6,0.6 0 1 0 1.2,0a0.6,0.6 0 1 0 -1.2,0M117.8,386.2a0.95,0.95 0 1 0 1.9,0a0.95,0.95 0 1 0 -1.9,0M117.1,388.4a0.85,0.85 0 1 0 1.7,0a0.85,0.85 0 1 0 -1.7,0M117.8,429.7a0.8,0.8 0 1 0 1.6,0a0.8,0.8 0 1 0 -1.6,0M116.9,432.1a0.95,0.95 0 1 0 1.9,0a0.95,0.95 0 1 0 -1.9,0"/><path fill="none" stroke="#28283c" stroke-width="1.4" stroke-linecap="round" stroke-opacity="0.5" d="M16.7,380.9L17.6,381.8M15.5,388.4L14.4,387.7M17.4,392.4L16.1,392.4M17.0,410.9L17.1,409.8M17.2,421.7L16.7,420.9M19.6,371.7L18.9,372.5M17.6,378.7L18.6,379.9M21.9,400.6L22.0,401.6M23.8,397.7L25.1,397.7M24.6,411.4L25.7,411.3M26.1,421.6L25.0,420.2M29.0,432.1L28.4,433.0M30.5,395.0L31.6,394.8M31.0,414.6L29.8,415.2M30.8,423.2L29.5,424.0M30.3,428.6L31.5,429.1M34.3,389.9L35.2,389.6M32.4,403.6L33.8,403.9M34.7,408.2L35.9,409.0M33.0,417.4L34.1,416.4M35.8,425.8L34.5,424.8M33.0,430.5L33.3,428.8M36.6,400.2L37.8,400.7M44.0,380.2L42.9,379.3M45.0,374.4L45.4,373.0M46.0,376.2L45.7,375.0M47.6,424.9L47.2,426.0M48.1,414.9L49.1,414.4M50.7,376.9L51.5,377.8M52.1,391.3L50.8,391.6M53.3,425.0L52.6,423.7M51.7,432.0L53.2,432.2M56.6,412.4L55.5,411.3M54.2,419.3L55.1,420.8M58.5,407.8L60.2,407.4M61.3,377.6L61.1,379.3M60.9,398.0L62.5,398.1M59.9,404.8L61.2,405.5M64.9,373.5L64.0,372.8M63.8,379.4L62.6,379.8M64.6,416.2L66.3,416.8M66.2,426.9L64.6,426.4M68.5,374.5L68.3,376.2M69.2,404.3L70.4,403.5M68.6,410.0L70.1,409.3M70.7,415.3L72.1,414.1M70.4,418.0L71.3,417.0M69.3,419.8L70.3,418.9M69.4,423.7L70.6,424.8M74.3,386.1L73.9,384.6M73.8,391.7L74.3,390.5M74.1,403.6L73.7,404.8M73.1,430.7L74.7,430.2M75.2,385.9L76.3,386.3M76.9,412.1L77.4,411.0M77.3,413.9L75.9,413.3M75.5,419.8L76.5,420.9M77.7,427.9L76.9,426.7M80.5,403.2L79.8,403.9M83.0,376.7L84.2,375.8M81.0,392.4L82.3,392.3M83.7,414.8L83.4,413.4M82.5,427.9L83.6,427.1M84.2,376.3L84.8,377.6M86.5,433.4L85.4,433.9M88.1,390.9L86.8,390.9M89.9,406.2L89.4,405.1M90.5,420.7L89.0,421.5M92.2,397.5L91.1,397.9M91.8,407.0L91.6,405.8M91.8,426.0L91.8,424.7M94.5,409.9L95.2,411.4M93.9,415.6L93.6,414.1M95.1,421.6L95.5,419.9M97.0,398.7L98.5,399.1M97.2,406.2L97.9,407.2M97.8,421.1L98.8,419.6M102.9,382.1L102.4,383.5M105.5,404.2L103.8,403.9M104.5,414.6L103.5,415.4M107.6,420.9L108.1,419.8M110.1,409.7L110.4,411.2M108.0,415.2L109.1,414.3M113.2,389.6L113.1,388.5M113.5,398.5L113.1,399.6M111.3,430.2L112.3,430.6M115.7,388.8L116.6,389.2M115.4,400.5L114.7,401.6M114.3,409.6L116.0,409.8M116.3,420.6L116.5,421.9M115.8,425.5L114.5,425.0M115.5,430.1L116.0,431.2M115.2,433.0L115.1,431.6M118.9,375.4L118.8,377.1M119.7,383.0L118.9,381.8M118.1,413.4L119.4,414.6"/><path fill="#28283c" fill-opacity="1.0" d="M15.7,431.6a0.6,0.6 0 1 0 1.2,0a0.6,0.6 0 1 0 -1.2,0M18.5,375.3a0.8,0.8 0 1 0 1.6,0a0.8,0.8 0 1 0 -1.6,0M18.0,397.4a0.95,0.95 0 1 0 1.9,0a0.95,0.95 0 1 0 -1.9,0M23.0,383.1a0.95,0.95 0 1 0 1.9,0a0.95,0.95 0 1 0 -1.9,0M28.5,382.6a0.8,0.8 0 1 0 1.6,0a0.8,0.8 0 1 0 -1.6,0M27.2,386.4a0.85,0.85 0 1 0 1.7,0a0.85,0.85 0 1 0 -1.7,0M38.5,383.5a0.8,0.8 0 1 0 1.6,0a0.8,0.8 0 1 0 -1.6,0M39.9,407.3a0.85,0.85 0 1 0 1.7,0a0.85,0.85 0 1 0 -1.7,0M45.5,388.7a0.7,0.7 0 1 0 1.4,0a0.7,0.7 0 1 0 -1.4,0M44.8,424.5a0.8,0.8 0 1 0 1.6,0a0.8,0.8 0 1 0 -1.6,0M61.1,390.0a0.85,0.85 0 1 0 1.7,0a0.85,0.85 0 1 0 -1.7,0M69.6,384.6a0.95,0.95 0 1 0 1.9,0a0.95,0.95 0 1 0 -1.9,0M74.7,382.9a0.95,0.95 0 1 0 1.9,0a0.95,0.95 0 1 0 -1.9,0M78.9,373.4a0.7,0.7 0 1 0 1.4,0a0.7,0.7 0 1 0 -1.4,0M83.7,385.9a0.85,0.85 0 1 0 1.7,0a0.85,0.85 0 1 0 -1.7,0M90.6,416.7a0.8,0.8 0 1 0 1.6,0a0.8,0.8 0 1 0 -1.6,0M96.2,413.6a0.7,0.7 0 1 0 1.4,0a0.7,0.7 0 1 0 -1.4,0M101.0,426.0a0.8,0.8 0 1 0 1.6,0a0.8,0.8 0 1 0 -1.6,0M105.1,378.9a0.7,0.7 0 1 0 1.4,0a0.7,0.7 0 1 0 -1.4,0M115.7,386.0a0.95,0.95 0 1 0 1.9,0a0.95,0.95 0 1 0 -1.9,0"/><path fill="#28283c" fill-opacity="0.25" d="M18.0,383.0a0.95,0.95 0 1 0 1.9,0a0.95,0.95 0 1 0 -1.9,0M27.0,400.4a0.8,0.8 0 1 0 1.6,0a0.8,0.8 0 1 0 -1.6,0M31.2,386.8a0.7,0.7 0 1 0 1.4,0a0.7,0.7 0 1 0 -1.4,0M33.8,393.0a0.8,0.8 0 1 0 1.6,0a0.8,0.8 0 1 0 -1.6,0M35.6,419.5a0.7,0.7 0 1 0 1.4,0a0.7,0.7 0 1 0 -1.4,0M36.4,429.4a0.6,0.6 0 1 0 1.2,0a0.6,0.6 0 1 0 -1.2,0M39.8,426.4a0.7,0.7 0 1 0 1.4,0a0.7,0.7 0 1 0 -1.4,0M50.6,401.3a0.7,0.7 0 1 0 1.4,0a0.7,0.7 0 1 0 -1.4,0M53.9,381.3a0.6,0.6 0 1 0 1.2,0a0.6,0.6 0 1 0 -1.2,0M53.8,387.8a0.85,0.85 0 1 0 1.7,0a0.85,0.85 0 1 0 -1.7,0M67.3,394.8a0.6,0.6 0 1 0 1.2,0a0.6,0.6 0 1 0 -1.2,0M75.4,392.1a0.6,0.6 0 1 0 1.2,0a0.6,0.6 0 1 0 -1.2,0M81.4,385.6a0.7,0.7 0 1 0 1.4,0a0.7,0.7 0 1 0 -1.4,0M97.7,384.9a0.8,0.8 0 1 0 1.6,0a0.8,0.8 0 1 0 -1.6,0M97.1,416.4a0.6,0.6 0 1 0 1.2,0a0.6,0.6 0 1 0 -1.2,0M100.5,431.9a0.95,0.95 0 1 0 1.9,0a0.95,0.95 0 1 0 -1.9,0M108.0,376.8a0.95,0.95 0 1 0 1.9,0a0.95,0.95 0 1 0 -1.9,0M111.1,414.6a0.8,0.8 0 1 0 1.6,0a0.8,0.8 0 1 0 -1.6,0"/><path fill="none" stroke="#28283c" stroke-width="1.4" stroke-linecap="round" stroke-opacity="0.25" d="M23.8,373.9L22.2,373.9M26.0,406.2L25.6,407.3M31.4,408.1L29.7,408.6M32.2,385.1L33.8,385.7M33.5,432.8L35.2,433.3M41.7,380.2L40.6,379.2M42.8,419.6L43.9,419.1M46.4,386.0L46.5,384.2M47.9,374.0L48.9,372.7M51.6,398.7L51.4,396.9M51.8,420.3L53.1,419.6M56.0,373.7L56.6,372.4M63.6,432.0L64.2,433.3M68.9,399.1L70.3,398.6M99.9,410.9L100.4,409.6M104.0,391.8L105.2,393.2M109.8,390.9L108.7,392.2M111.7,373.4L111.8,375.1M112.3,400.4L113.5,401.4M120.1,406.6L118.8,407.4"/><path fill="none" stroke="#28283c" stroke-width="1.4" stroke-linecap="round" stroke-opacity="1.0" d="M21.1,420.9L21.0,421.9M23.6,375.9L24.3,377.5M25.8,389.0L26.6,387.6M26.6,400.5L25.9,401.3M44.1,392.2L43.5,391.4M65.6,391.5L64.8,392.5M91.6,386.2L91.7,384.9M95.0,433.4L95.7,434.4M117.0,378.9L115.6,379.5"/><rect x="586.8" y="370.75" width="106.8" height="63.55" fill="#fff" stroke="#111" stroke-width="1.4"/><path fill="none" stroke="#28283c" stroke-width="1.4" stroke-linecap="round" stroke-opacity="0.75" d="M591.0,371.5L589.8,372.7M589.1,381.0L589.0,379.5M590.7,430.2L589.3,429.1M592.8,375.6L593.3,377.0M593.5,410.2L592.1,410.7M595.5,389.4L596.4,388.1M595.2,395.8L596.6,395.0M596.5,401.5L595.4,402.0M595.7,406.9L596.7,405.8M595.8,417.0L594.6,415.7M597.3,375.9L598.6,374.7M600.0,392.2L598.9,391.0M599.1,398.2L599.0,399.6M598.0,425.7L597.2,426.7M597.3,433.8L597.6,432.5M602.3,374.0L601.4,372.7M604.9,375.6L604.1,374.5M605.7,423.7L604.6,423.8M604.0,432.3L604.7,431.4M608.8,382.5L608.1,384.1M609.2,385.3L607.4,385.3M607.5,393.4L607.6,392.2M608.1,403.9L607.0,403.9M606.8,413.5L607.1,414.6M610.4,400.6L608.6,400.4M614.1,379.1L614.3,380.2M614.0,384.8L614.5,386.3M613.4,395.6L614.6,394.9M613.3,424.5L613.1,425.9M615.4,378.5L615.9,380.1M616.3,382.8L615.1,382.1M616.0,409.8L616.9,408.9M617.4,416.8L616.9,415.8M617.6,433.1L616.1,432.7M618.1,390.7L619.4,390.9M619.9,433.0L619.4,432.1M623.2,386.3L623.4,385.1M621.4,428.6L622.3,429.0M620.6,431.3L621.9,432.1M625.0,409.6L626.5,410.2M628.3,373.1L626.8,373.4M627.5,400.0L628.7,399.5M627.4,409.1L628.3,407.7M631.1,392.7L629.7,391.7M634.2,372.7L634.9,371.2M634.9,377.1L636.0,376.4M635.3,385.7L634.3,384.8M634.7,396.4L633.8,397.1M637.5,407.9L636.4,408.3M636.7,413.4L636.3,414.6M639.3,382.3L639.2,381.2M640.2,393.4L639.3,394.7M640.6,406.4L640.5,408.0M640.6,409.9L639.0,409.5M641.1,414.0L639.7,413.8M646.7,382.4L646.0,381.2M648.0,394.6L646.9,395.4M647.7,416.2L646.5,415.3M647.4,432.8L646.3,431.4M649.6,379.7L650.7,380.0M650.2,383.0L648.8,383.1M649.8,394.7L649.9,393.7M649.2,397.6L650.0,398.9M649.9,399.7L649.0,400.7M650.2,422.7L649.0,423.5M652.9,381.7L653.9,382.9M652.5,394.7L651.5,395.1M654.0,400.8L653.1,402.2M652.6,410.7L654.3,410.4M656.2,379.1L654.9,380.3M653.9,392.0L654.8,391.5M655.9,425.7L655.8,424.2M655.1,431.6L656.3,432.5M656.4,384.4L658.1,384.2M656.5,404.3L658.1,404.6M660.8,387.9L661.0,389.1M660.1,393.4L660.9,394.6M661.2,410.4L659.9,409.4M661.1,428.5L660.3,429.2M663.8,379.1L663.1,377.8M664.6,410.8L663.2,410.8M665.9,430.2L665.3,428.7M669.0,372.5L667.9,372.6M668.3,376.7L666.9,377.5M670.6,383.2L669.6,383.6M670.9,385.4L669.8,384.8M668.7,422.1L670.0,423.3M670.2,428.0L671.5,428.6M674.2,398.1L672.7,398.4M679.1,372.6L679.9,371.8M680.0,375.2L681.2,376.5M679.6,432.7L680.8,432.5M682.0,371.3L683.1,372.5M682.6,379.1L682.0,377.5M683.7,404.4L683.2,403.5M682.1,428.6L681.1,428.9M691.4,390.3L692.3,389.0M691.9,395.2L693.1,395.6M691.2,401.2L690.4,401.8M692.9,428.2L691.2,427.8M690.5,432.9L691.4,431.4"/><path fill="none" stroke="#28283c" stroke-width="1.4" stroke-linecap="round" stroke-opacity="0.5" d="M589.7,383.9L589.8,382.1M590.1,396.1L588.6,395.3M590.7,406.5L589.2,407.0M588.0,411.7L588.5,412.8M589.5,427.6L588.3,426.5M592.8,374.3L593.2,373.0M591.7,382.2L590.7,381.0M592.8,403.2L591.7,404.1M592.2,415.2L591.4,415.9M593.0,426.9L593.1,425.6M591.5,429.3L591.4,427.6M594.5,391.5L595.5,391.1M593.7,414.1L595.1,414.8M598.4,378.9L597.7,380.3M600.1,388.2L598.3,388.1M598.9,394.5L598.2,393.8M598.6,419.6L597.7,419.0M600.0,399.7L601.2,400.1M603.6,430.5L604.0,429.5M605.5,409.7L606.8,408.8M609.6,420.0L610.6,420.4M610.0,422.9L611.3,422.2M610.0,425.9L608.6,426.5M613.1,406.5L612.4,407.3M614.7,415.8L613.1,415.9M613.8,420.0L614.6,421.3M615.2,376.3L616.0,377.1M615.9,384.9L614.8,385.6M617.7,404.1L616.8,405.1M615.6,421.4L614.8,420.1M616.0,427.6L616.6,429.1M619.4,412.7L618.0,412.9M620.2,417.9L620.0,416.4M622.9,376.5L621.7,377.2M621.8,380.9L621.5,379.2M621.7,381.6L623.4,381.4M621.3,394.1L621.3,395.8M621.1,397.1L622.1,396.2M624.2,392.1L624.8,391.2M625.8,400.1L624.3,400.0M625.8,420.3L626.4,419.2M629.8,387.3L628.7,388.5M629.6,397.1L628.8,397.7M627.7,413.0L629.3,412.8M628.0,425.8L627.9,424.2M627.8,429.1L627.6,427.7M629.7,432.9L628.7,433.2M630.5,373.8L631.8,374.2M632.8,400.9L631.8,399.8M630.8,429.6L631.3,428.8M631.4,432.4L632.2,433.3M634.2,387.3L635.5,387.3M635.9,391.4L634.9,392.8M634.7,403.3L633.5,403.9M634.6,421.2L633.6,420.0M637.7,383.1L639.0,383.6M638.7,403.4L637.7,403.9M636.5,417.8L637.0,417.0M638.5,421.0L638.1,419.9M640.1,378.9L641.6,377.9M640.6,415.7L639.5,415.5M639.4,420.7L639.5,419.4M643.9,380.4L643.1,381.7M642.3,389.8L643.5,391.1M643.5,402.4L643.7,401.3M643.4,411.0L643.5,412.2M643.5,420.4L644.2,418.9M648.1,374.9L647.0,375.0M647.1,387.2L647.6,385.6M646.5,409.2L647.0,410.8M647.0,428.5L648.1,429.8M648.6,374.9L648.3,376.1M649.5,387.3L650.0,388.9M650.3,404.4L650.7,403.5M648.1,408.1L649.0,406.9M649.2,412.9L648.1,413.8M649.9,427.5L650.0,426.0M653.1,385.0L653.2,386.7M655.0,388.8L654.7,389.8M657.0,416.6L655.5,415.7M654.9,420.5L653.9,419.9M657.1,423.5L656.1,424.4M658.8,420.7L658.2,419.4M659.0,426.3L659.9,427.9M660.6,378.9L660.3,377.4M661.0,391.9L662.6,391.7M664.0,415.8L663.3,417.1M668.6,399.7L668.3,398.3M669.5,377.5L669.5,379.1M672.0,392.7L670.6,392.6M671.3,394.0L670.9,395.5M674.5,379.8L674.2,378.7M674.3,384.6L674.6,386.1M673.0,430.5L673.9,430.0M676.4,374.5L676.7,373.0M677.6,385.4L676.9,386.9M676.4,390.0L676.9,391.6M676.0,397.0L677.0,396.6M677.4,419.0L677.8,420.1M677.8,426.6L676.1,426.6M681.1,415.9L680.0,415.3M681.3,397.7L682.3,397.3M688.7,398.9L687.6,398.1M688.4,400.7L688.8,401.7M688.6,406.7L687.6,406.7M688.3,419.4L689.4,419.1M687.5,426.5L688.5,425.4M688.2,433.5L688.7,432.2M690.6,377.4L690.1,378.6M691.3,397.8L692.5,397.9M691.6,427.8L692.5,426.5"/><path fill="none" stroke="#28283c" stroke-width="1.4" stroke-linecap="round" stroke-opacity="1.0" d="M588.5,385.1L589.9,384.8M604.3,388.8L603.5,387.5M653.3,416.5L653.5,417.5M651.0,431.6L652.3,431.7M668.8,401.6L667.7,402.5M667.6,428.7L666.5,428.8M665.9,430.7L666.6,432.0"/><path fill="#28283c" fill-opacity="0.75" d="M587.6,389.1a0.8,0.8 0 1 0 1.6,0a0.8,0.8 0 1 0 -1.6,0M589.2,390.7a0.7,0.7 0 1 0 1.4,0a0.7,0.7 0 1 0 -1.4,0M589.4,404.5a0.7,0.7 0 1 0 1.4,0a0.7,0.7 0 1 0 -1.4,0M587.3,411.4a0.95,0.95 0 1 0 1.9,0a0.95,0.95 0 1 0 -1.9,0M591.8,378.5a0.8,0.8 0 1 0 1.6,0a0.8,0.8 0 1 0 -1.6,0M590.5,388.4a0.8,0.8 0 1 0 1.6,0a0.8,0.8 0 1 0 -1.6,0M590.2,400.5a0.95,0.95 0 1 0 1.9,0a0.95,0.95 0 1 0 -1.9,0M591.9,406.5a0.8,0.8 0 1 0 1.6,0a0.8,0.8 0 1 0 -1.6,0M591.1,423.5a0.7,0.7 0 1 0 1.4,0a0.7,0.7 0 1 0 -1.4,0M591.3,433.4a0.95,0.95 0 1 0 1.9,0a0.95,0.95 0 1 0 -1.9,0M593.9,373.6a0.7,0.7 0 1 0 1.4,0a0.7,0.7 0 1 0 -1.4,0M595.5,381.8a0.7,0.7 0 1 0 1.4,0a0.7,0.7 0 1 0 -1.4,0M595.1,384.3a0.6,0.6 0 1 0 1.2,0a0.6,0.6 0 1 0 -1.2,0M594.2,411.1a0.7,0.7 0 1 0 1.4,0a0.7,0.7 0 1 0 -1.4,0M595.5,420.3a0.8,0.8 0 1 0 1.6,0a0.8,0.8 0 1 0 -1.6,0M596.7,374.1a0.7,0.7 0 1 0 1.4,0a0.7,0.7 0 1 0 -1.4,0M597.7,382.2a0.7,0.7 0 1 0 1.4,0a0.7,0.7 0 1 0 -1.4,0M598.7,384.5a0.6,0.6 0 1 0 1.2,0a0.6,0.6 0 1 0 -1.2,0M598.8,410.2a0.6,0.6 0 1 0 1.2,0a0.6,0.6 0 1 0 -1.2,0M597.4,413.0a0.7,0.7 0 1 0 1.4,0a0.7,0.7 0 1 0 -1.4,0M600.9,376.3a0.85,0.85 0 1 0 1.7,0a0.85,0.85 0 1 0 -1.7,0M600.0,380.2a0.95,0.95 0 1 0 1.9,0a0.95,0.95 0 1 0 -1.9,0M599.9,383.2a0.6,0.6 0 1 0 1.2,0a0.6,0.6 0 1 0 -1.2,0M600.4,391.2a0.85,0.85 0 1 0 1.7,0a0.85,0.85 0 1 0 -1.7,0M601.2,405.1a0.7,0.7 0 1 0 1.4,0a0.7,0.7 0 1 0 -1.4,0M600.4,410.7a0.7,0.7 0 1 0 1.4,0a0.7,0.7 0 1 0 -1.4,0M600.5,415.6a0.7,0.7 0 1 0 1.4,0a0.7,0.7 0 1 0 -1.4,0M600.8,429.5a0.85,0.85 0 1 0 1.7,0a0.85,0.85 0 1 0 -1.7,0M603.7,373.3a0.95,0.95 0 1 0 1.9,0a0.95,0.95 0 1 0 -1.9,0M604.4,394.7a0.8,0.8 0 1 0 1.6,0a0.8,0.8 0 1 0 -1.6,0M604.3,396.7a0.85,0.85 0 1 0 1.7,0a0.85,0.85 0 1 0 -1.7,0M602.9,420.0a0.95,0.95 0 1 0 1.9,0a0.95,0.95 0 1 0 -1.9,0M604.4,424.8a0.85,0.85 0 1 0 1.7,0a0.85,0.85 0 1 0 -1.7,0M607.6,394.6a0.8,0.8 0 1 0 1.6,0a0.8,0.8 0 1 0 -1.6,0M606.3,399.0a0.7,0.7 0 1 0 1.4,0a0.7,0.7 0 1 0 -1.4,0M605.6,417.7a0.8,0.8 0 1 0 1.6,0a0.8,0.8 0 1 0 -1.6,0M605.4,431.1a0.85,0.85 0 1 0 1.7,0a0.85,0.85 0 1 0 -1.7,0M610.1,373.0a0.8,0.8 0 1 0 1.6,0a0.8,0.8 0 1 0 -1.6,0M608.9,375.1a0.6,0.6 0 1 0 1.2,0a0.6,0.6 0 1 0 -1.2,0M610.5,384.7a0.6,0.6 0 1 0 1.2,0a0.6,0.6 0 1 0 -1.2,0M609.0,393.7a0.6,0.6 0 1 0 1.2,0a0.6,0.6 0 1 0 -1.2,0M608.7,398.5a0.6,0.6 0 1 0 1.2,0a0.6,0.6 0 1 0 -1.2,0M609.6,405.3a0.7,0.7 0 1 0 1.4,0a0.7,0.7 0 1 0 -1.4,0M608.3,406.1a0.95,0.95 0 1 0 1.9,0a0.95,0.95 0 1 0 -1.9,0M609.0,430.3a0.6,0.6 0 1 0 1.2,0a0.6,0.6 0 1 0 -1.2,0M610.4,431.6a0.7,0.7 0 1 0 1.4,0a0.7,0.7 0 1 0 -1.4,0M611.6,376.1a0.85,0.85 0 1 0 1.7,0a0.85,0.85 0 1 0 -1.7,0M612.3,388.6a0.7,0.7 0 1 0 1.4,0a0.7,0.7 0 1 0 -1.4,0M612.2,397.6a0.6,0.6 0 1 0 1.2,0a0.6,0.6 0 1 0 -1.2,0M611.9,400.9a0.8,0.8 0 1 0 1.6,0a0.8,0.8 0 1 0 -1.6,0M614.7,389.7a0.7,0.7 0 1 0 1.4,0a0.7,0.7 0 1 0 -1.4,0M614.8,391.9a0.95,0.95 0 1 0 1.9,0a0.95,0.95 0 1 0 -1.9,0M615.8,398.6a0.85,0.85 0 1 0 1.7,0a0.85,0.85 0 1 0 -1.7,0M614.6,400.4a0.85,0.85 0 1 0 1.7,0a0.85,0.85 0 1 0 -1.7,0M615.8,413.6a0.8,0.8 0 1 0 1.6,0a0.8,0.8 0 1 0 -1.6,0M614.5,425.7a0.8,0.8 0 1 0 1.6,0a0.8,0.8 0 1 0 -1.6,0M617.6,372.3a0.8,0.8 0 1 0 1.6,0a0.8,0.8 0 1 0 -1.6,0M619.3,376.2a0.7,0.7 0 1 0 1.4,0a0.7,0.7 0 1 0 -1.4,0M618.8,381.3a0.95,0.95 0 1 0 1.9,0a0.95,0.95 0 1 0 -1.9,0M618.3,398.4a0.6,0.6 0 1 0 1.2,0a0.6,0.6 0 1 0 -1.2,0M619.5,400.4a0.6,0.6 0 1 0 1.2,0a0.6,0.6 0 1 0 -1.2,0M618.2,407.3a0.85,0.85 0 1 0 1.7,0a0.85,0.85 0 1 0 -1.7,0M617.8,423.4a0.8,0.8 0 1 0 1.6,0a0.8,0.8 0 1 0 -1.6,0M620.9,403.7a0.8,0.8 0 1 0 1.6,0a0.8,0.8 0 1 0 -1.6,0M621.0,409.3a0.95,0.95 0 1 0 1.9,0a0.95,0.95 0 1 0 -1.9,0M622.7,421.6a0.85,0.85 0 1 0 1.7,0a0.85,0.85 0 1 0 -1.7,0M625.3,377.0a0.7,0.7 0 1 0 1.4,0a0.7,0.7 0 1 0 -1.4,0M624.3,386.0a0.8,0.8 0 1 0 1.6,0a0.8,0.8 0 1 0 -1.6,0M623.6,395.0a0.8,0.8 0 1 0 1.6,0a0.8,0.8 0 1 0 -1.6,0M624.2,406.6a0.6,0.6 0 1 0 1.2,0a0.6,0.6 0 1 0 -1.2,0M625.8,427.1a0.8,0.8 0 1 0 1.6,0a0.8,0.8 0 1 0 -1.6,0M623.8,429.2a0.7,0.7 0 1 0 1.4,0a0.7,0.7 0 1 0 -1.4,0M625.4,431.4a0.8,0.8 0 1 0 1.6,0a0.8,0.8 0 1 0 -1.6,0M626.7,383.4a0.95,0.95 0 1 0 1.9,0a0.95,0.95 0 1 0 -1.9,0M628.6,384.7a0.6,0.6 0 1 0 1.2,0a0.6,0.6 0 1 0 -1.2,0M627.8,404.0a0.85,0.85 0 1 0 1.7,0a0.85,0.85 0 1 0 -1.7,0M627.8,410.6a0.85,0.85 0 1 0 1.7,0a0.85,0.85 0 1 0 -1.7,0M627.3,416.4a0.7,0.7 0 1 0 1.4,0a0.7,0.7 0 1 0 -1.4,0M631.1,375.8a0.6,0.6 0 1 0 1.2,0a0.6,0.6 0 1 0 -1.2,0M631.4,383.1a0.85,0.85 0 1 0 1.7,0a0.85,0.85 0 1 0 -1.7,0M630.8,407.1a0.95,0.95 0 1 0 1.9,0a0.95,0.95 0 1 0 -1.9,0M630.1,416.3a0.7,0.7 0 1 0 1.4,0a0.7,0.7 0 1 0 -1.4,0M630.3,426.7a0.7,0.7 0 1 0 1.4,0a0.7,0.7 0 1 0 -1.4,0M632.7,379.0a0.95,0.95 0 1 0 1.9,0a0.95,0.95 0 1 0 -1.9,0M634.4,383.3a0.8,0.8 0 1 0 1.6,0a0.8,0.8 0 1 0 -1.6,0M632.8,395.4a0.6,0.6 0 1 0 1.2,0a0.6,0.6 0 1 0 -1.2,0M633.4,400.6a0.85,0.85 0 1 0 1.7,0a0.85,0.85 0 1 0 -1.7,0M637.4,373.7a0.8,0.8 0 1 0 1.6,0a0.8,0.8 0 1 0 -1.6,0M635.5,377.2a0.7,0.7 0 1 0 1.4,0a0.7,0.7 0 1 0 -1.4,0M636.4,386.6a0.85,0.85 0 1 0 1.7,0a0.85,0.85 0 1 0 -1.7,0M635.8,388.8a0.95,0.95 0 1 0 1.9,0a0.95,0.95 0 1 0 -1.9,0M635.9,398.6a0.85,0.85 0 1 0 1.7,0a0.85,0.85 0 1 0 -1.7,0M637.3,400.2a0.7,0.7 0 1 0 1.4,0a0.7,0.7 0 1 0 -1.4,0M635.8,411.2a0.85,0.85 0 1 0 1.7,0a0.85,0.85 0 1 0 -1.7,0M637.7,429.3a0.6,0.6 0 1 0 1.2,0a0.6,0.6 0 1 0 -1.2,0M636.9,432.2a0.85,0.85 0 1 0 1.7,0a0.85,0.85 0 1 0 -1.7,0M639.2,376.5a0.7,0.7 0 1 0 1.4,0a0.7,0.7 0 1 0 -1.4,0M638.8,384.4a0.8,0.8 0 1 0 1.6,0a0.8,0.8 0 1 0 -1.6,0M639.1,429.1a0.6,0.6 0 1 0 1.2,0a0.6,0.6 0 1 0 -1.2,0M643.4,384.3a0.6,0.6 0 1 0 1.2,0a0.6,0.6 0 1 0 -1.2,0M643.8,397.7a0.6,0.6 0 1 0 1.2,0a0.6,0.6 0 1 0 -1.2,0M642.2,405.1a0.95,0.95 0 1 0 1.9,0a0.95,0.95 0 1 0 -1.9,0M642.0,407.1a0.8,0.8 0 1 0 1.6,0a0.8,0.8 0 1 0 -1.6,0M643.2,417.3a0.8,0.8 0 1 0 1.6,0a0.8,0.8 0 1 0 -1.6,0M641.9,425.0a0.8,0.8 0 1 0 1.6,0a0.8,0.8 0 1 0 -1.6,0M643.0,430.2a0.6,0.6 0 1 0 1.2,0a0.6,0.6 0 1 0 -1.2,0M644.6,379.3a0.7,0.7 0 1 0 1.4,0a0.7,0.7 0 1 0 -1.4,0M644.6,388.7a0.85,0.85 0 1 0 1.7,0a0.85,0.85 0 1 0 -1.7,0M644.9,392.2a0.85,0.85 0 1 0 1.7,0a0.85,0.85 0 1 0 -1.7,0M645.6,401.8a0.7,0.7 0 1 0 1.4,0a0.7,0.7 0 1 0 -1.4,0M645.6,422.6a0.8,0.8 0 1 0 1.6,0a0.8,0.8 0 1 0 -1.6,0M649.0,411.1a0.85,0.85 0 1 0 1.7,0a0.85,0.85 0 1 0 -1.7,0M648.6,417.4a0.6,0.6 0 1 0 1.2,0a0.6,0.6 0 1 0 -1.2,0M649.1,418.7a0.95,0.95 0 1 0 1.9,0a0.95,0.95 0 1 0 -1.9,0M648.2,432.3a0.8,0.8 0 1 0 1.6,0a0.8,0.8 0 1 0 -1.6,0M651.2,373.8a0.95,0.95 0 1 0 1.9,0a0.95,0.95 0 1 0 -1.9,0M652.5,376.7a0.8,0.8 0 1 0 1.6,0a0.8,0.8 0 1 0 -1.6,0M651.8,389.2a0.7,0.7 0 1 0 1.4,0a0.7,0.7 0 1 0 -1.4,0M652.6,412.4a0.6,0.6 0 1 0 1.2,0a0.6,0.6 0 1 0 -1.2,0M650.6,419.8a0.8,0.8 0 1 0 1.6,0a0.8,0.8 0 1 0 -1.6,0M652.0,423.5a0.95,0.95 0 1 0 1.9,0a0.95,0.95 0 1 0 -1.9,0M652.2,429.1a0.6,0.6 0 1 0 1.2,0a0.6,0.6 0 1 0 -1.2,0M654.0,376.7a0.6,0.6 0 1 0 1.2,0a0.6,0.6 0 1 0 -1.2,0M654.8,384.3a0.95,0.95 0 1 0 1.9,0a0.95,0.95 0 1 0 -1.9,0M654.5,393.8a0.6,0.6 0 1 0 1.2,0a0.6,0.6 0 1 0 -1.2,0M654.6,397.2a0.7,0.7 0 1 0 1.4,0a0.7,0.7 0 1 0 -1.4,0M654.6,402.2a0.85,0.85 0 1 0 1.7,0a0.85,0.85 0 1 0 -1.7,0M654.3,409.6a0.6,0.6 0 1 0 1.2,0a0.6,0.6 0 1 0 -1.2,0M654.6,413.7a0.7,0.7 0 1 0 1.4,0a0.7,0.7 0 1 0 -1.4,0M656.7,372.5a0.95,0.95 0 1 0 1.9,0a0.95,0.95 0 1 0 -1.9,0M658.0,377.2a0.85,0.85 0 1 0 1.7,0a0.85,0.85 0 1 0 -1.7,0M657.1,382.2a0.85,0.85 0 1 0 1.7,0a0.85,0.85 0 1 0 -1.7,0M657.9,391.0a0.6,0.6 0 1 0 1.2,0a0.6,0.6 0 1 0 -1.2,0M658.7,402.2a0.85,0.85 0 1 0 1.7,0a0.85,0.85 0 1 0 -1.7,0M657.9,406.8a0.8,0.8 0 1 0 1.6,0a0.8,0.8 0 1 0 -1.6,0M658.3,412.2a0.85,0.85 0 1 0 1.7,0a0.85,0.85 0 1 0 -1.7,0M657.5,423.3a0.95,0.95 0 1 0 1.9,0a0.95,0.95 0 1 0 -1.9,0M658.6,428.7a0.7,0.7 0 1 0 1.4,0a0.7,0.7 0 1 0 -1.4,0M659.8,382.8a0.95,0.95 0 1 0 1.9,0a0.95,0.95 0 1 0 -1.9,0M660.0,385.0a0.8,0.8 0 1 0 1.6,0a0.8,0.8 0 1 0 -1.6,0M661.4,397.8a0.8,0.8 0 1 0 1.6,0a0.8,0.8 0 1 0 -1.6,0M660.9,412.7a0.95,0.95 0 1 0 1.9,0a0.95,0.95 0 1 0 -1.9,0M664.0,388.7a0.95,0.95 0 1 0 1.9,0a0.95,0.95 0 1 0 -1.9,0M662.6,401.7a0.85,0.85 0 1 0 1.7,0a0.85,0.85 0 1 0 -1.7,0M667.6,382.2a0.8,0.8 0 1 0 1.6,0a0.8,0.8 0 1 0 -1.6,0M667.5,385.9a0.7,0.7 0 1 0 1.4,0a0.7,0.7 0 1 0 -1.4,0M666.0,392.5a0.8,0.8 0 1 0 1.6,0a0.8,0.8 0 1 0 -1.6,0M665.7,395.7a0.7,0.7 0 1 0 1.4,0a0.7,0.7 0 1 0 -1.4,0M665.8,415.6a0.6,0.6 0 1 0 1.2,0a0.6,0.6 0 1 0 -1.2,0M667.4,423.7a0.6,0.6 0 1 0 1.2,0a0.6,0.6 0 1 0 -1.2,0M665.7,424.9a0.8,0.8 0 1 0 1.6,0a0.8,0.8 0 1 0 -1.6,0M670.7,371.8a0.8,0.8 0 1 0 1.6,0a0.8,0.8 0 1 0 -1.6,0M669.1,407.6a0.85,0.85 0 1 0 1.7,0a0.85,0.85 0 1 0 -1.7,0M671.0,412.5a0.6,0.6 0 1 0 1.2,0a0.6,0.6 0 1 0 -1.2,0M668.6,418.6a0.85,0.85 0 1 0 1.7,0a0.85,0.85 0 1 0 -1.7,0M673.7,376.5a0.7,0.7 0 1 0 1.4,0a0.7,0.7 0 1 0 -1.4,0M671.7,418.7a0.7,0.7 0 1 0 1.4,0a0.7,0.7 0 1 0 -1.4,0M674.6,374.9a0.8,0.8 0 1 0 1.6,0a0.8,0.8 0 1 0 -1.6,0M675.9,378.4a0.8,0.8 0 1 0 1.6,0a0.8,0.8 0 1 0 -1.6,0M676.4,383.4a0.7,0.7 0 1 0 1.4,0a0.7,0.7 0 1 0 -1.4,0M676.3,394.9a0.95,0.95 0 1 0 1.9,0a0.95,0.95 0 1 0 -1.9,0M674.7,401.4a0.7,0.7 0 1 0 1.4,0a0.7,0.7 0 1 0 -1.4,0M676.9,406.5a0.7,0.7 0 1 0 1.4,0a0.7,0.7 0 1 0 -1.4,0M676.1,416.1a0.85,0.85 0 1 0 1.7,0a0.85,0.85 0 1 0 -1.7,0M675.4,423.9a0.7,0.7 0 1 0 1.4,0a0.7,0.7 0 1 0 -1.4,0M674.8,432.0a0.6,0.6 0 1 0 1.2,0a0.6,0.6 0 1 0 -1.2,0M678.7,381.5a0.8,0.8 0 1 0 1.6,0a0.8,0.8 0 1 0 -1.6,0M677.5,387.6a0.95,0.95 0 1 0 1.9,0a0.95,0.95 0 1 0 -1.9,0M677.6,408.1a0.95,0.95 0 1 0 1.9,0a0.95,0.95 0 1 0 -1.9,0M677.5,414.6a0.85,0.85 0 1 0 1.7,0a0.85,0.85 0 1 0 -1.7,0M678.6,421.7a0.8,0.8 0 1 0 1.6,0a0.8,0.8 0 1 0 -1.6,0M679.3,429.6a0.95,0.95 0 1 0 1.9,0a0.95,0.95 0 1 0 -1.9,0M682.0,381.9a0.6,0.6 0 1 0 1.2,0a0.6,0.6 0 1 0 -1.2,0M682.1,385.6a0.8,0.8 0 1 0 1.6,0a0.8,0.8 0 1 0 -1.6,0M682.5,387.7a0.8,0.8 0 1 0 1.6,0a0.8,0.8 0 1 0 -1.6,0M681.6,395.3a0.8,0.8 0 1 0 1.6,0a0.8,0.8 0 1 0 -1.6,0M682.3,407.1a0.95,0.95 0 1 0 1.9,0a0.95,0.95 0 1 0 -1.9,0M681.7,412.3a0.85,0.85 0 1 0 1.7,0a0.85,0.85 0 1 0 -1.7,0M680.7,416.7a0.6,0.6 0 1 0 1.2,0a0.6,0.6 0 1 0 -1.2,0M682.2,423.4a0.8,0.8 0 1 0 1.6,0a0.8,0.8 0 1 0 -1.6,0M681.7,431.2a0.85,0.85 0 1 0 1.7,0a0.85,0.85 0 1 0 -1.7,0M683.5,374.9a0.8,0.8 0 1 0 1.6,0a0.8,0.8 0 1 0 -1.6,0M685.6,379.1a0.7,0.7 0 1 0 1.4,0a0.7,0.7 0 1 0 -1.4,0M684.6,390.8a0.85,0.85 0 1 0 1.7,0a0.85,0.85 0 1 0 -1.7,0M685.1,394.2a0.95,0.95 0 1 0 1.9,0a0.95,0.95 0 1 0 -1.9,0M684.9,400.9a0.7,0.7 0 1 0 1.4,0a0.7,0.7 0 1 0 -1.4,0M685.9,409.9a0.7,0.7 0 1 0 1.4,0a0.7,0.7 0 1 0 -1.4,0M684.8,413.5a0.7,0.7 0 1 0 1.4,0a0.7,0.7 0 1 0 -1.4,0M684.5,416.1a0.6,0.6 0 1 0 1.2,0a0.6,0.6 0 1 0 -1.2,0M685.3,431.3a0.6,0.6 0 1 0 1.2,0a0.6,0.6 0 1 0 -1.2,0M688.5,373.0a0.7,0.7 0 1 0 1.4,0a0.7,0.7 0 1 0 -1.4,0M688.9,376.6a0.6,0.6 0 1 0 1.2,0a0.6,0.6 0 1 0 -1.2,0M687.3,378.2a0.8,0.8 0 1 0 1.6,0a0.8,0.8 0 1 0 -1.6,0M686.8,386.0a0.8,0.8 0 1 0 1.6,0a0.8,0.8 0 1 0 -1.6,0M687.7,410.8a0.7,0.7 0 1 0 1.4,0a0.7,0.7 0 1 0 -1.4,0M687.8,428.0a0.95,0.95 0 1 0 1.9,0a0.95,0.95 0 1 0 -1.9,0M691.0,409.3a0.7,0.7 0 1 0 1.4,0a0.7,0.7 0 1 0 -1.4,0M690.1,412.8a0.6,0.6 0 1 0 1.2,0a0.6,0.6 0 1 0 -1.2,0"/><path fill="#28283c" fill-opacity="0.5" d="M588.1,398.4a0.85,0.85 0 1 0 1.7,0a0.85,0.85 0 1 0 -1.7,0M588.9,401.7a0.85,0.85 0 1 0 1.7,0a0.85,0.85 0 1 0 -1.7,0M589.4,416.0a0.6,0.6 0 1 0 1.2,0a0.6,0.6 0 1 0 -1.2,0M588.1,422.9a0.8,0.8 0 1 0 1.6,0a0.8,0.8 0 1 0 -1.6,0M589.1,433.1a0.85,0.85 0 1 0 1.7,0a0.85,0.85 0 1 0 -1.7,0M591.1,394.3a0.8,0.8 0 1 0 1.6,0a0.8,0.8 0 1 0 -1.6,0M590.5,397.9a0.7,0.7 0 1 0 1.4,0a0.7,0.7 0 1 0 -1.4,0M590.2,414.7a0.95,0.95 0 1 0 1.9,0a0.95,0.95 0 1 0 -1.9,0M594.7,376.7a0.6,0.6 0 1 0 1.2,0a0.6,0.6 0 1 0 -1.2,0M595.2,404.5a0.6,0.6 0 1 0 1.2,0a0.6,0.6 0 1 0 -1.2,0M594.6,424.1a0.95,0.95 0 1 0 1.9,0a0.95,0.95 0 1 0 -1.9,0M595.7,425.3a0.7,0.7 0 1 0 1.4,0a0.7,0.7 0 1 0 -1.4,0M593.8,433.3a0.6,0.6 0 1 0 1.2,0a0.6,0.6 0 1 0 -1.2,0M597.5,404.3a0.7,0.7 0 1 0 1.4,0a0.7,0.7 0 1 0 -1.4,0M598.3,416.0a0.7,0.7 0 1 0 1.4,0a0.7,0.7 0 1 0 -1.4,0M597.2,423.7a0.95,0.95 0 1 0 1.9,0a0.95,0.95 0 1 0 -1.9,0M596.6,429.7a0.8,0.8 0 1 0 1.6,0a0.8,0.8 0 1 0 -1.6,0M600.2,385.4a0.6,0.6 0 1 0 1.2,0a0.6,0.6 0 1 0 -1.2,0M599.6,395.5a0.6,0.6 0 1 0 1.2,0a0.6,0.6 0 1 0 -1.2,0M599.9,397.4a0.85,0.85 0 1 0 1.7,0a0.85,0.85 0 1 0 -1.7,0M599.7,412.5a0.6,0.6 0 1 0 1.2,0a0.6,0.6 0 1 0 -1.2,0M601.6,422.7a0.85,0.85 0 1 0 1.7,0a0.85,0.85 0 1 0 -1.7,0M599.5,426.4a0.7,0.7 0 1 0 1.4,0a0.7,0.7 0 1 0 -1.4,0M604.6,383.1a0.8,0.8 0 1 0 1.6,0a0.8,0.8 0 1 0 -1.6,0M603.6,391.2a0.95,0.95 0 1 0 1.9,0a0.95,0.95 0 1 0 -1.9,0M603.9,400.8a0.6,0.6 0 1 0 1.2,0a0.6,0.6 0 1 0 -1.2,0M602.9,403.1a0.85,0.85 0 1 0 1.7,0a0.85,0.85 0 1 0 -1.7,0M602.5,409.8a0.8,0.8 0 1 0 1.6,0a0.8,0.8 0 1 0 -1.6,0M603.6,414.2a0.8,0.8 0 1 0 1.6,0a0.8,0.8 0 1 0 -1.6,0M604.8,416.5a0.6,0.6 0 1 0 1.2,0a0.6,0.6 0 1 0 -1.2,0M605.3,372.0a0.95,0.95 0 1 0 1.9,0a0.95,0.95 0 1 0 -1.9,0M606.2,376.3a0.85,0.85 0 1 0 1.7,0a0.85,0.85 0 1 0 -1.7,0M606.0,378.0a0.85,0.85 0 1 0 1.7,0a0.85,0.85 0 1 0 -1.7,0M606.2,401.2a0.8,0.8 0 1 0 1.6,0a0.8,0.8 0 1 0 -1.6,0M606.5,424.1a0.6,0.6 0 1 0 1.2,0a0.6,0.6 0 1 0 -1.2,0M607.2,428.5a0.7,0.7 0 1 0 1.4,0a0.7,0.7 0 1 0 -1.4,0M609.4,379.3a0.95,0.95 0 1 0 1.9,0a0.95,0.95 0 1 0 -1.9,0M610.2,381.6a0.7,0.7 0 1 0 1.4,0a0.7,0.7 0 1 0 -1.4,0M609.7,387.3a0.6,0.6 0 1 0 1.2,0a0.6,0.6 0 1 0 -1.2,0M608.7,410.8a0.85,0.85 0 1 0 1.7,0a0.85,0.85 0 1 0 -1.7,0M609.4,414.0a0.85,0.85 0 1 0 1.7,0a0.85,0.85 0 1 0 -1.7,0M609.1,416.3a0.7,0.7 0 1 0 1.4,0a0.7,0.7 0 1 0 -1.4,0M613.0,372.5a0.8,0.8 0 1 0 1.6,0a0.8,0.8 0 1 0 -1.6,0M611.4,381.8a0.95,0.95 0 1 0 1.9,0a0.95,0.95 0 1 0 -1.9,0M611.3,391.4a0.95,0.95 0 1 0 1.9,0a0.95,0.95 0 1 0 -1.9,0M613.1,414.7a0.7,0.7 0 1 0 1.4,0a0.7,0.7 0 1 0 -1.4,0M612.3,421.8a0.7,0.7 0 1 0 1.4,0a0.7,0.7 0 1 0 -1.4,0M616.4,394.7a0.6,0.6 0 1 0 1.2,0a0.6,0.6 0 1 0 -1.2,0M614.9,407.7a0.95,0.95 0 1 0 1.9,0a0.95,0.95 0 1 0 -1.9,0M615.3,422.2a0.85,0.85 0 1 0 1.7,0a0.85,0.85 0 1 0 -1.7,0M617.6,380.0a0.85,0.85 0 1 0 1.7,0a0.85,0.85 0 1 0 -1.7,0M618.8,384.5a0.6,0.6 0 1 0 1.2,0a0.6,0.6 0 1 0 -1.2,0M617.3,389.5a0.85,0.85 0 1 0 1.7,0a0.85,0.85 0 1 0 -1.7,0M617.7,395.0a0.6,0.6 0 1 0 1.2,0a0.6,0.6 0 1 0 -1.2,0M617.4,405.2a0.95,0.95 0 1 0 1.9,0a0.95,0.95 0 1 0 -1.9,0M619.5,409.8a0.95,0.95 0 1 0 1.9,0a0.95,0.95 0 1 0 -1.9,0M618.7,418.9a0.7,0.7 0 1 0 1.4,0a0.7,0.7 0 1 0 -1.4,0M618.2,425.0a0.8,0.8 0 1 0 1.6,0a0.8,0.8 0 1 0 -1.6,0M618.4,427.9a0.8,0.8 0 1 0 1.6,0a0.8,0.8 0 1 0 -1.6,0M620.9,388.7a0.8,0.8 0 1 0 1.6,0a0.8,0.8 0 1 0 -1.6,0M622.0,392.1a0.7,0.7 0 1 0 1.4,0a0.7,0.7 0 1 0 -1.4,0M622.6,400.0a0.6,0.6 0 1 0 1.2,0a0.6,0.6 0 1 0 -1.2,0M621.6,414.1a0.8,0.8 0 1 0 1.6,0a0.8,0.8 0 1 0 -1.6,0M621.2,417.0a0.95,0.95 0 1 0 1.9,0a0.95,0.95 0 1 0 -1.9,0M623.0,419.8a0.6,0.6 0 1 0 1.2,0a0.6,0.6 0 1 0 -1.2,0M620.8,425.5a0.7,0.7 0 1 0 1.4,0a0.7,0.7 0 1 0 -1.4,0M625.5,378.2a0.85,0.85 0 1 0 1.7,0a0.85,0.85 0 1 0 -1.7,0M624.5,381.6a0.7,0.7 0 1 0 1.4,0a0.7,0.7 0 1 0 -1.4,0M624.1,389.5a0.7,0.7 0 1 0 1.4,0a0.7,0.7 0 1 0 -1.4,0M623.6,398.6a0.85,0.85 0 1 0 1.7,0a0.85,0.85 0 1 0 -1.7,0M624.9,404.4a0.6,0.6 0 1 0 1.2,0a0.6,0.6 0 1 0 -1.2,0M625.1,412.9a0.85,0.85 0 1 0 1.7,0a0.85,0.85 0 1 0 -1.7,0M624.3,416.2a0.95,0.95 0 1 0 1.9,0a0.95,0.95 0 1 0 -1.9,0M623.8,423.9a0.95,0.95 0 1 0 1.9,0a0.95,0.95 0 1 0 -1.9,0M626.4,375.2a0.85,0.85 0 1 0 1.7,0a0.85,0.85 0 1 0 -1.7,0M628.0,379.7a0.8,0.8 0 1 0 1.6,0a0.8,0.8 0 1 0 -1.6,0M628.5,392.0a0.7,0.7 0 1 0 1.4,0a0.7,0.7 0 1 0 -1.4,0M627.4,395.6a0.95,0.95 0 1 0 1.9,0a0.95,0.95 0 1 0 -1.9,0M626.9,422.7a0.95,0.95 0 1 0 1.9,0a0.95,0.95 0 1 0 -1.9,0M630.9,380.4a0.7,0.7 0 1 0 1.4,0a0.7,0.7 0 1 0 -1.4,0M631.5,388.5a0.95,0.95 0 1 0 1.9,0a0.95,0.95 0 1 0 -1.9,0M629.3,398.8a0.95,0.95 0 1 0 1.9,0a0.95,0.95 0 1 0 -1.9,0M630.0,403.4a0.95,0.95 0 1 0 1.9,0a0.95,0.95 0 1 0 -1.9,0M631.1,422.0a0.6,0.6 0 1 0 1.2,0a0.6,0.6 0 1 0 -1.2,0M634.5,408.0a0.8,0.8 0 1 0 1.6,0a0.8,0.8 0 1 0 -1.6,0M633.7,414.4a0.8,0.8 0 1 0 1.6,0a0.8,0.8 0 1 0 -1.6,0M633.9,417.0a0.95,0.95 0 1 0 1.9,0a0.95,0.95 0 1 0 -1.9,0M633.1,426.0a0.8,0.8 0 1 0 1.6,0a0.8,0.8 0 1 0 -1.6,0M634.3,429.8a0.95,0.95 0 1 0 1.9,0a0.95,0.95 0 1 0 -1.9,0M634.8,432.6a0.6,0.6 0 1 0 1.2,0a0.6,0.6 0 1 0 -1.2,0M636.9,380.3a0.8,0.8 0 1 0 1.6,0a0.8,0.8 0 1 0 -1.6,0M637.2,395.5a0.6,0.6 0 1 0 1.2,0a0.6,0.6 0 1 0 -1.2,0M636.1,423.5a0.95,0.95 0 1 0 1.9,0a0.95,0.95 0 1 0 -1.9,0M639.7,371.7a0.7,0.7 0 1 0 1.4,0a0.7,0.7 0 1 0 -1.4,0M639.3,389.5a0.95,0.95 0 1 0 1.9,0a0.95,0.95 0 1 0 -1.9,0M639.1,397.9a0.8,0.8 0 1 0 1.6,0a0.8,0.8 0 1 0 -1.6,0M639.2,401.0a0.85,0.85 0 1 0 1.7,0a0.85,0.85 0 1 0 -1.7,0M639.3,404.2a0.6,0.6 0 1 0 1.2,0a0.6,0.6 0 1 0 -1.2,0M643.3,372.5a0.7,0.7 0 1 0 1.4,0a0.7,0.7 0 1 0 -1.4,0M642.1,376.4a0.85,0.85 0 1 0 1.7,0a0.85,0.85 0 1 0 -1.7,0M642.9,379.9a0.85,0.85 0 1 0 1.7,0a0.85,0.85 0 1 0 -1.7,0M641.7,388.6a0.85,0.85 0 1 0 1.7,0a0.85,0.85 0 1 0 -1.7,0M641.8,393.9a0.95,0.95 0 1 0 1.9,0a0.95,0.95 0 1 0 -1.9,0M641.8,412.5a0.85,0.85 0 1 0 1.7,0a0.85,0.85 0 1 0 -1.7,0M643.3,432.4a0.7,0.7 0 1 0 1.4,0a0.7,0.7 0 1 0 -1.4,0M644.8,372.9a0.95,0.95 0 1 0 1.9,0a0.95,0.95 0 1 0 -1.9,0M646.8,398.1a0.85,0.85 0 1 0 1.7,0a0.85,0.85 0 1 0 -1.7,0M644.8,408.2a0.6,0.6 0 1 0 1.2,0a0.6,0.6 0 1 0 -1.2,0M644.8,414.7a0.8,0.8 0 1 0 1.6,0a0.8,0.8 0 1 0 -1.6,0M646.6,420.3a0.7,0.7 0 1 0 1.4,0a0.7,0.7 0 1 0 -1.4,0M648.0,373.3a0.85,0.85 0 1 0 1.7,0a0.85,0.85 0 1 0 -1.7,0M648.5,386.2a0.8,0.8 0 1 0 1.6,0a0.8,0.8 0 1 0 -1.6,0M648.2,428.2a0.85,0.85 0 1 0 1.7,0a0.85,0.85 0 1 0 -1.7,0M651.3,378.0a0.95,0.95 0 1 0 1.9,0a0.95,0.95 0 1 0 -1.9,0M650.6,398.1a0.95,0.95 0 1 0 1.9,0a0.95,0.95 0 1 0 -1.9,0M651.2,407.1a0.6,0.6 0 1 0 1.2,0a0.6,0.6 0 1 0 -1.2,0M651.7,425.5a0.6,0.6 0 1 0 1.2,0a0.6,0.6 0 1 0 -1.2,0M654.9,371.9a0.8,0.8 0 1 0 1.6,0a0.8,0.8 0 1 0 -1.6,0M655.9,381.6a0.6,0.6 0 1 0 1.2,0a0.6,0.6 0 1 0 -1.2,0M654.9,405.0a0.7,0.7 0 1 0 1.4,0a0.7,0.7 0 1 0 -1.4,0M655.4,406.1a0.85,0.85 0 1 0 1.7,0a0.85,0.85 0 1 0 -1.7,0M653.7,429.4a0.85,0.85 0 1 0 1.7,0a0.85,0.85 0 1 0 -1.7,0M658.4,378.2a0.7,0.7 0 1 0 1.4,0a0.7,0.7 0 1 0 -1.4,0M657.3,411.3a0.6,0.6 0 1 0 1.2,0a0.6,0.6 0 1 0 -1.2,0M658.6,415.6a0.6,0.6 0 1 0 1.2,0a0.6,0.6 0 1 0 -1.2,0M657.3,431.0a0.7,0.7 0 1 0 1.4,0a0.7,0.7 0 1 0 -1.4,0M660.7,402.9a0.7,0.7 0 1 0 1.4,0a0.7,0.7 0 1 0 -1.4,0M661.5,407.2a0.7,0.7 0 1 0 1.4,0a0.7,0.7 0 1 0 -1.4,0M661.3,415.8a0.8,0.8 0 1 0 1.6,0a0.8,0.8 0 1 0 -1.6,0M659.9,431.3a0.8,0.8 0 1 0 1.6,0a0.8,0.8 0 1 0 -1.6,0M664.4,373.4a0.7,0.7 0 1 0 1.4,0a0.7,0.7 0 1 0 -1.4,0M662.8,375.7a0.85,0.85 0 1 0 1.7,0a0.85,0.85 0 1 0 -1.7,0M662.5,385.0a0.95,0.95 0 1 0 1.9,0a0.95,0.95 0 1 0 -1.9,0M663.9,397.7a0.7,0.7 0 1 0 1.4,0a0.7,0.7 0 1 0 -1.4,0M662.8,414.3a0.8,0.8 0 1 0 1.6,0a0.8,0.8 0 1 0 -1.6,0M663.9,418.7a0.8,0.8 0 1 0 1.6,0a0.8,0.8 0 1 0 -1.6,0M664.4,422.8a0.6,0.6 0 1 0 1.2,0a0.6,0.6 0 1 0 -1.2,0M664.8,432.4a0.8,0.8 0 1 0 1.6,0a0.8,0.8 0 1 0 -1.6,0M667.6,378.2a0.6,0.6 0 1 0 1.2,0a0.6,0.6 0 1 0 -1.2,0M666.8,388.4a0.6,0.6 0 1 0 1.2,0a0.6,0.6 0 1 0 -1.2,0M667.3,405.1a0.7,0.7 0 1 0 1.4,0a0.7,0.7 0 1 0 -1.4,0M667.5,406.4a0.8,0.8 0 1 0 1.6,0a0.8,0.8 0 1 0 -1.6,0M667.4,413.3a0.7,0.7 0 1 0 1.4,0a0.7,0.7 0 1 0 -1.4,0M665.5,420.2a0.95,0.95 0 1 0 1.9,0a0.95,0.95 0 1 0 -1.9,0M668.3,376.3a0.95,0.95 0 1 0 1.9,0a0.95,0.95 0 1 0 -1.9,0M670.0,387.3a0.95,0.95 0 1 0 1.9,0a0.95,0.95 0 1 0 -1.9,0M669.3,400.8a0.8,0.8 0 1 0 1.6,0a0.8,0.8 0 1 0 -1.6,0M670.3,404.3a0.6,0.6 0 1 0 1.2,0a0.6,0.6 0 1 0 -1.2,0M669.1,426.5a0.6,0.6 0 1 0 1.2,0a0.6,0.6 0 1 0 -1.2,0M673.4,371.9a0.95,0.95 0 1 0 1.9,0a0.95,0.95 0 1 0 -1.9,0M672.3,388.6a0.7,0.7 0 1 0 1.4,0a0.7,0.7 0 1 0 -1.4,0M671.8,391.0a0.6,0.6 0 1 0 1.2,0a0.6,0.6 0 1 0 -1.2,0M671.7,394.7a0.8,0.8 0 1 0 1.6,0a0.8,0.8 0 1 0 -1.6,0M671.7,401.8a0.85,0.85 0 1 0 1.7,0a0.85,0.85 0 1 0 -1.7,0M671.7,403.7a0.6,0.6 0 1 0 1.2,0a0.6,0.6 0 1 0 -1.2,0M672.4,407.2a0.7,0.7 0 1 0 1.4,0a0.7,0.7 0 1 0 -1.4,0M672.9,411.0a0.8,0.8 0 1 0 1.6,0a0.8,0.8 0 1 0 -1.6,0M673.7,412.8a0.6,0.6 0 1 0 1.2,0a0.6,0.6 0 1 0 -1.2,0M673.5,417.1a0.85,0.85 0 1 0 1.7,0a0.85,0.85 0 1 0 -1.7,0M672.4,426.2a0.7,0.7 0 1 0 1.4,0a0.7,0.7 0 1 0 -1.4,0M673.6,431.2a0.7,0.7 0 1 0 1.4,0a0.7,0.7 0 1 0 -1.4,0M675.4,389.7a0.6,0.6 0 1 0 1.2,0a0.6,0.6 0 1 0 -1.2,0M675.6,404.6a0.8,0.8 0 1 0 1.6,0a0.8,0.8 0 1 0 -1.6,0M675.3,410.0a0.8,0.8 0 1 0 1.6,0a0.8,0.8 0 1 0 -1.6,0M675.2,413.6a0.6,0.6 0 1 0 1.2,0a0.6,0.6 0 1 0 -1.2,0M675.8,429.7a0.8,0.8 0 1 0 1.6,0a0.8,0.8 0 1 0 -1.6,0M678.9,379.4a0.85,0.85 0 1 0 1.7,0a0.85,0.85 0 1 0 -1.7,0M678.9,390.8a0.6,0.6 0 1 0 1.2,0a0.6,0.6 0 1 0 -1.2,0M677.6,395.3a0.85,0.85 0 1 0 1.7,0a0.85,0.85 0 1 0 -1.7,0M680.0,398.4a0.6,0.6 0 1 0 1.2,0a0.6,0.6 0 1 0 -1.2,0M678.9,404.8a0.95,0.95 0 1 0 1.9,0a0.95,0.95 0 1 0 -1.9,0M677.7,420.2a0.95,0.95 0 1 0 1.9,0a0.95,0.95 0 1 0 -1.9,0M681.3,376.2a0.95,0.95 0 1 0 1.9,0a0.95,0.95 0 1 0 -1.9,0M681.4,392.4a0.85,0.85 0 1 0 1.7,0a0.85,0.85 0 1 0 -1.7,0M682.0,409.6a0.7,0.7 0 1 0 1.4,0a0.7,0.7 0 1 0 -1.4,0M681.9,420.2a0.7,0.7 0 1 0 1.4,0a0.7,0.7 0 1 0 -1.4,0M681.0,424.9a0.6,0.6 0 1 0 1.2,0a0.6,0.6 0 1 0 -1.2,0M684.8,372.0a0.8,0.8 0 1 0 1.6,0a0.8,0.8 0 1 0 -1.6,0M685.9,381.6a0.7,0.7 0 1 0 1.4,0a0.7,0.7 0 1 0 -1.4,0M685.2,385.5a0.6,0.6 0 1 0 1.2,0a0.6,0.6 0 1 0 -1.2,0M685.1,387.4a0.95,0.95 0 1 0 1.9,0a0.95,0.95 0 1 0 -1.9,0M685.4,398.4a0.85,0.85 0 1 0 1.7,0a0.85,0.85 0 1 0 -1.7,0M685.4,405.0a0.6,0.6 0 1 0 1.2,0a0.6,0.6 0 1 0 -1.2,0M685.4,407.7a0.85,0.85 0 1 0 1.7,0a0.85,0.85 0 1 0 -1.7,0M683.5,419.6a0.85,0.85 0 1 0 1.7,0a0.85,0.85 0 1 0 -1.7,0M684.3,423.7a0.6,0.6 0 1 0 1.2,0a0.6,0.6 0 1 0 -1.2,0M683.7,426.0a0.85,0.85 0 1 0 1.7,0a0.85,0.85 0 1 0 -1.7,0M687.6,388.5a0.95,0.95 0 1 0 1.9,0a0.95,0.95 0 1 0 -1.9,0M687.7,391.2a0.6,0.6 0 1 0 1.2,0a0.6,0.6 0 1 0 -1.2,0M687.9,395.6a0.6,0.6 0 1 0 1.2,0a0.6,0.6 0 1 0 -1.2,0M688.5,421.7a0.6,0.6 0 1 0 1.2,0a0.6,0.6 0 1 0 -1.2,0M691.2,373.7a0.7,0.7 0 1 0 1.4,0a0.7,0.7 0 1 0 -1.4,0M690.2,383.5a0.8,0.8 0 1 0 1.6,0a0.8,0.8 0 1 0 -1.6,0M690.9,391.5a0.8,0.8 0 1 0 1.6,0a0.8,0.8 0 1 0 -1.6,0M689.7,403.4a0.6,0.6 0 1 0 1.2,0a0.6,0.6 0 1 0 -1.2,0M691.7,415.5a0.6,0.6 0 1 0 1.2,0a0.6,0.6 0 1 0 -1.2,0M689.8,419.4a0.8,0.8 0 1 0 1.6,0a0.8,0.8 0 1 0 -1.6,0"/><path fill="#28283c" fill-opacity="1.0" d="M592.5,384.6a0.8,0.8 0 1 0 1.6,0a0.8,0.8 0 1 0 -1.6,0M597.9,402.0a0.7,0.7 0 1 0 1.4,0a0.7,0.7 0 1 0 -1.4,0M604.0,385.1a0.85,0.85 0 1 0 1.7,0a0.85,0.85 0 1 0 -1.7,0M606.1,387.5a0.85,0.85 0 1 0 1.7,0a0.85,0.85 0 1 0 -1.7,0M607.1,407.7a0.6,0.6 0 1 0 1.2,0a0.6,0.6 0 1 0 -1.2,0M612.3,404.5a0.7,0.7 0 1 0 1.4,0a0.7,0.7 0 1 0 -1.4,0M631.0,385.6a0.6,0.6 0 1 0 1.2,0a0.6,0.6 0 1 0 -1.2,0M658.2,388.1a0.8,0.8 0 1 0 1.6,0a0.8,0.8 0 1 0 -1.6,0M663.9,395.3a0.6,0.6 0 1 0 1.2,0a0.6,0.6 0 1 0 -1.2,0M663.1,425.6a0.7,0.7 0 1 0 1.4,0a0.7,0.7 0 1 0 -1.4,0M678.2,411.5a0.6,0.6 0 1 0 1.2,0a0.6,0.6 0 1 0 -1.2,0M679.1,425.4a0.6,0.6 0 1 0 1.2,0a0.6,0.6 0 1 0 -1.2,0M690.7,375.9a0.95,0.95 0 1 0 1.9,0a0.95,0.95 0 1 0 -1.9,0"/><path fill="#28283c" fill-opacity="0.25" d="M601.6,407.1a0.7,0.7 0 1 0 1.4,0a0.7,0.7 0 1 0 -1.4,0M600.2,433.0a0.95,0.95 0 1 0 1.9,0a0.95,0.95 0 1 0 -1.9,0M604.3,407.6a0.6,0.6 0 1 0 1.2,0a0.6,0.6 0 1 0 -1.2,0M631.2,414.2a0.7,0.7 0 1 0 1.4,0a0.7,0.7 0 1 0 -1.4,0M636.1,391.6a0.85,0.85 0 1 0 1.7,0a0.85,0.85 0 1 0 -1.7,0M639.4,427.1a0.8,0.8 0 1 0 1.6,0a0.8,0.8 0 1 0 -1.6,0M651.8,392.8a0.8,0.8 0 1 0 1.6,0a0.8,0.8 0 1 0 -1.6,0M658.5,393.6a0.8,0.8 0 1 0 1.6,0a0.8,0.8 0 1 0 -1.6,0M660.2,400.6a0.7,0.7 0 1 0 1.4,0a0.7,0.7 0 1 0 -1.4,0M665.8,409.8a0.85,0.85 0 1 0 1.7,0a0.85,0.85 0 1 0 -1.7,0M669.0,398.1a0.95,0.95 0 1 0 1.9,0a0.95,0.95 0 1 0 -1.9,0M672.0,423.3a0.8,0.8 0 1 0 1.6,0a0.8,0.8 0 1 0 -1.6,0M679.6,401.2a0.8,0.8 0 1 0 1.6,0a0.8,0.8 0 1 0 -1.6,0M688.7,403.2a0.8,0.8 0 1 0 1.6,0a0.8,0.8 0 1 0 -1.6,0M688.0,417.5a0.95,0.95 0 1 0 1.9,0a0.95,0.95 0 1 0 -1.9,0M691.6,422.5a0.6,0.6 0 1 0 1.2,0a0.6,0.6 0 1 0 -1.2,0"/><path fill="none" stroke="#28283c" stroke-width="1.4" stroke-linecap="round" stroke-opacity="0.25" d="M629.4,420.3L629.4,418.5M632.2,410.4L631.7,409.4M651.5,405.0L652.8,405.7M662.4,373.4L661.5,374.2M669.8,410.6L671.0,410.2M678.7,386.0L679.3,385.1M684.1,400.0L682.9,399.9M688.0,383.1L687.0,383.4"/><path fill="none" stroke="#222" stroke-width="1.1" d="M121.3,370.5 V435 M121.6,370.8 L125.80,375.35 L121.60,379.90 L125.80,384.45 L121.60,389.00 L125.80,393.55 L121.60,398.10 L125.80,402.65 L121.60,407.20 L125.80,411.75 L121.60,416.30 L125.80,420.85 L121.60,425.40 L125.80,429.95 L121.60,434.50"/><path fill="none" stroke="#222" stroke-width="1.1" d="M580.9,370.8 L584.90,375.33 L580.90,379.86 L584.90,384.39 L580.90,388.91 L584.90,393.44 L580.90,397.97 L584.90,402.50 L580.90,407.03 L584.90,411.56 L580.90,416.09 L584.90,420.61 L580.90,425.14 L584.90,429.67 L580.90,434.20"/><path fill="#808080" stroke="#111" stroke-width="1.3" stroke-linejoin="miter" d="M128.3,371 H143 V406.5 H140.8 V409.6 H138.6 V434.6 H128.3 Z"/><path fill="#808080" stroke="none" d="M106,362.5 H139 V380.2 H135.4 V370.8 H106 Z"/><path fill="none" stroke="#111" stroke-width="1.3" stroke-linejoin="miter" d="M106,370.8 V362.5 H139 V371 M135.4,370.8 V380.2 H139"/><path fill="#808080" stroke="#111" stroke-width="1.3" stroke-linejoin="miter" d="M100.6,434.6 V443.1 H133.6 V425.8 H130 V434.6 Z"/><path fill="#808080" stroke="#111" stroke-width="1.3" stroke-linejoin="miter" d="M580.3,370.8 H564.6 V406.2 H566.6 V409.4 H568.5 V433.9 H580.3 Z"/><path fill="#808080" stroke="none" d="M601.9,362.3 H569 V379.4 H572.5 V370.6 H601.9 Z"/><path fill="none" stroke="#111" stroke-width="1.3" stroke-linejoin="miter" d="M601.9,370.6 V362.3 H569 V378 Q569,379.6 570.75,379.6 Q572.5,379.6 572.5,378 V370.7 H580"/><path fill="#808080" stroke="#111" stroke-width="1.3" stroke-linejoin="miter" d="M607.5,433.9 V443.3 H574.7 V425.9 H578 V433.9 Z"/><rect x="140.4" y="412" width="427.1" height="22.2" fill="#808080" stroke="#111" stroke-width="1.2"/><path fill="none" stroke="#1a1a1a" stroke-width="1.2" d="M540.5,412 V403.5 H480.6 V398.3 H546.3 V412 M540.5,434.4 V443.2 H480.6 V448.5 H546.3 V434.4"/><g fill="none" stroke="#7c5e54" stroke-width="1.3"><path d="M235.2,306.2 H177.65 L118.9,366.9"/><path d="M235.8,337.8 H178.8 L135.4,380.6"/><path d="M236.4,372.8 H180.1 L143.25,408.6"/><path d="M237.5,472.9 H204.5 L160.5,426.6"/><path d="M648.2,345.9 H622.3 L582.9,385.4"/></g><path fill="#ee4416" d="M118.90,366.90 L135.32,354.96 L130.29,350.09 Z"/><path fill="#ee4416" d="M135.40,380.60 L152.10,369.05 L147.18,364.06 Z"/><path fill="#ee4416" d="M143.25,408.60 L160.03,397.17 L155.16,392.15 Z"/><path fill="#ee4416" d="M160.50,426.60 L171.74,443.51 L176.81,438.69 Z"/><path fill="#ee4416" d="M582.90,385.40 L598.16,373.78 L594.48,370.11 Z"/><g fill="none" stroke="#2c2c5c" stroke-width="1.25"><path d="M121.3,456 V527.5 M586.5,455.4 V527.4 M121.3,510.4 H311.7 M397.7,510.4 H586.5"/><path d="M713.4,371 H759.8 M713.4,434.8 H759.8 M743.4,371 V462.5 H726.6"/></g><g fill="none" stroke="#1600a8" stroke-width="3.1" stroke-linecap="butt"><path d="M112.2,519.3 L130.2,501.1 M577.3,519.3 L595.3,501.5 M734.3,362 L752.4,380.2 M734.3,425.8 L752.4,444"/></g><g fill="none" stroke="#7c4f40" stroke-width="1.3" vector-effect="non-scaling-stroke" stroke-linejoin="round" stroke-linecap="round"><path vector-effect="non-scaling-stroke" transform="translate(249.75,298.95) scale(8.850,13.100)" d="M0,0 L0,1 L0.42,1 C0.82,1 1,0.76 1,0.5 C1,0.24 0.82,0 0.42,0 Z"/><path vector-effect="non-scaling-stroke" transform="translate(262.55,298.95) scale(9.900,13.100)" d="M0.5,0 C0.8,0 1,0.24 1,0.5 C1,0.76 0.8,1 0.5,1 C0.2,1 0,0.76 0,0.5 C0,0.24 0.2,0 0.5,0 Z"/><path vector-effect="non-scaling-stroke" transform="translate(276.40,298.95) scale(9.950,13.100)" d="M0.5,0 C0.8,0 1,0.24 1,0.5 C1,0.76 0.8,1 0.5,1 C0.2,1 0,0.76 0,0.5 C0,0.24 0.2,0 0.5,0 Z"/><path vector-effect="non-scaling-stroke" transform="translate(289.90,298.95) scale(8.450,13.100)" d="M0,1 L0,0 L0.62,0 C0.9,0 1,0.12 1,0.26 C1,0.4 0.9,0.52 0.62,0.52 L0,0.52 M0.55,0.52 L1,1"/><path vector-effect="non-scaling-stroke" transform="translate(313.95,298.95) scale(10.600,13.100)" d="M0,1 L0.5,0 L1,1 M0.18,0.66 L0.82,0.66"/><path vector-effect="non-scaling-stroke" transform="translate(327.75,298.95) scale(7.700,13.100)" d="M0,1 L0,0 L0.62,0 C0.9,0 1,0.12 1,0.26 C1,0.4 0.9,0.52 0.62,0.52 L0,0.52 M0.55,0.52 L1,1"/><path vector-effect="non-scaling-stroke" transform="translate(339.45,298.95) scale(9.900,13.100)" d="M1,0.2 C0.9,0.06 0.72,0 0.55,0 C0.2,0 0,0.25 0,0.5 C0,0.75 0.2,1 0.55,1 C0.72,1 0.9,0.94 1,0.8"/><path vector-effect="non-scaling-stroke" transform="translate(353.75,298.95) scale(8.300,13.100)" d="M0,0 L0,1 M1,0 L1,1 M0,0.48 L1,0.48"/><path vector-effect="non-scaling-stroke" transform="translate(366.85,298.95) scale(0.010,13.100)" d="M0,0 L0,1"/><path vector-effect="non-scaling-stroke" transform="translate(371.15,298.95) scale(11.200,13.100)" d="M0,0 L1,0 M0.5,0 L0.5,1"/><path vector-effect="non-scaling-stroke" transform="translate(385.35,298.95) scale(7.700,13.100)" d="M0,1 L0,0 L0.62,0 C0.9,0 1,0.12 1,0.26 C1,0.4 0.9,0.52 0.62,0.52 L0,0.52 M0.55,0.52 L1,1"/><path vector-effect="non-scaling-stroke" transform="translate(395.95,298.95) scale(10.400,13.100)" d="M0,1 L0.5,0 L1,1 M0.18,0.66 L0.82,0.66"/><path vector-effect="non-scaling-stroke" transform="translate(408.65,298.95) scale(10.400,13.100)" d="M0,0 L0.5,1 L1,0"/><path vector-effect="non-scaling-stroke" transform="translate(423.05,298.95) scale(6.700,13.100)" d="M1,0 L0,0 L0,1 L1,1 M0,0.48 L0.85,0.48"/></g><g fill="none" stroke="#7c4f40" stroke-width="1.3" vector-effect="non-scaling-stroke" stroke-linejoin="round" stroke-linecap="round"><path vector-effect="non-scaling-stroke" transform="translate(249.75,331.95) scale(8.850,12.800)" d="M0,0 L0,1 L0.42,1 C0.82,1 1,0.76 1,0.5 C1,0.24 0.82,0 0.42,0 Z"/><path vector-effect="non-scaling-stroke" transform="translate(262.55,331.95) scale(9.900,12.800)" d="M0.5,0 C0.8,0 1,0.24 1,0.5 C1,0.76 0.8,1 0.5,1 C0.2,1 0,0.76 0,0.5 C0,0.24 0.2,0 0.5,0 Z"/><path vector-effect="non-scaling-stroke" transform="translate(276.40,331.95) scale(9.950,12.800)" d="M0.5,0 C0.8,0 1,0.24 1,0.5 C1,0.76 0.8,1 0.5,1 C0.2,1 0,0.76 0,0.5 C0,0.24 0.2,0 0.5,0 Z"/><path vector-effect="non-scaling-stroke" transform="translate(289.90,331.95) scale(8.450,12.800)" d="M0,1 L0,0 L0.62,0 C0.9,0 1,0.12 1,0.26 C1,0.4 0.9,0.52 0.62,0.52 L0,0.52 M0.55,0.52 L1,1"/><path vector-effect="non-scaling-stroke" transform="translate(313.95,331.95) scale(6.200,12.800)" d="M1,0 L0,0 L0,1 M0,0.48 L0.85,0.48"/><path vector-effect="non-scaling-stroke" transform="translate(325.65,331.95) scale(7.700,12.800)" d="M0,1 L0,0 L0.62,0 C0.9,0 1,0.12 1,0.26 C1,0.4 0.9,0.52 0.62,0.52 L0,0.52 M0.55,0.52 L1,1"/><path vector-effect="non-scaling-stroke" transform="translate(335.65,331.95) scale(12.100,12.800)" d="M0,1 L0.5,0 L1,1 M0.18,0.66 L0.82,0.66"/><path vector-effect="non-scaling-stroke" transform="translate(351.15,331.95) scale(10.900,12.800)" d="M0,1 L0,0 L0.5,1 L1,0 L1,1"/><path vector-effect="non-scaling-stroke" transform="translate(366.05,331.95) scale(7.700,12.800)" d="M1,0 L0,0 L0,1 L1,1 M0,0.48 L0.85,0.48"/><path vector-effect="non-scaling-stroke" transform="translate(378.45,328.95) scale(3.700,20.400)" d="M1,0 C0.1,0.3 0.1,0.7 1,1"/><path vector-effect="non-scaling-stroke" transform="translate(387.25,331.95) scale(6.100,12.800)" d="M1,0 L1,0.72 C1,0.9 0.8,1 0.5,1 C0.2,1 0,0.9 0,0.72 L0,0.66"/><path vector-effect="non-scaling-stroke" transform="translate(396.25,331.95) scale(10.400,12.800)" d="M0,1 L0.5,0 L1,1 M0.18,0.66 L0.82,0.66"/><path vector-effect="non-scaling-stroke" transform="translate(410.05,331.95) scale(10.900,12.800)" d="M0,1 L0,0 L0.5,1 L1,0 L1,1"/><path vector-effect="non-scaling-stroke" transform="translate(425.45,331.95) scale(7.800,12.800)" d="M0,0.48 L0.58,0.48 C0.86,0.48 0.94,0.36 0.94,0.24 C0.94,0.1 0.84,0 0.58,0 L0,0 L0,1 L0.6,1 C0.88,1 1,0.88 1,0.74 C1,0.58 0.88,0.48 0.6,0.48"/><path vector-effect="non-scaling-stroke" transform="translate(437.65,328.95) scale(4.100,20.400)" d="M0,0 C0.9,0.3 0.9,0.7 0,1"/></g><g fill="none" stroke="#7c4f40" stroke-width="1.3" vector-effect="non-scaling-stroke" stroke-linejoin="round" stroke-linecap="round"><path vector-effect="non-scaling-stroke" transform="translate(249.90,367.95) scale(8.250,13.100)" d="M1,0.16 C0.9,0.05 0.74,0 0.5,0 C0.2,0 0.03,0.1 0.03,0.26 C0.03,0.42 0.2,0.47 0.5,0.5 C0.82,0.53 1,0.6 1,0.76 C1,0.92 0.8,1 0.5,1 C0.25,1 0.08,0.95 0,0.84"/><path vector-effect="non-scaling-stroke" transform="translate(262.65,367.95) scale(7.200,13.100)" d="M1,0 L0,0 L0,1 L1,1 M0,0.48 L0.85,0.48"/><path vector-effect="non-scaling-stroke" transform="translate(272.25,367.95) scale(10.900,13.100)" d="M0,1 L0.5,0 L1,1 M0.18,0.66 L0.82,0.66"/><path vector-effect="non-scaling-stroke" transform="translate(287.05,367.95) scale(7.300,13.100)" d="M0,0 L0,1 L1,1"/><path vector-effect="non-scaling-stroke" transform="translate(298.75,367.95) scale(0.010,13.100)" d="M0,0 L0,1"/><path vector-effect="non-scaling-stroke" transform="translate(303.05,367.95) scale(8.300,13.100)" d="M0,1 L0,0 L1,1 L1,0"/><path vector-effect="non-scaling-stroke" transform="translate(316.35,367.95) scale(9.300,13.100)" d="M1,0.2 C0.9,0.06 0.72,0 0.55,0 C0.2,0 0,0.25 0,0.5 C0,0.75 0.2,1 0.55,1 C0.72,1 0.9,0.94 1,0.8 L1,0.56 L0.6,0.56"/><path vector-effect="non-scaling-stroke" transform="translate(340.35,367.95) scale(8.750,13.100)" d="M1,0.16 C0.9,0.05 0.74,0 0.5,0 C0.2,0 0.03,0.1 0.03,0.26 C0.03,0.42 0.2,0.47 0.5,0.5 C0.82,0.53 1,0.6 1,0.76 C1,0.92 0.8,1 0.5,1 C0.25,1 0.08,0.95 0,0.84"/><path vector-effect="non-scaling-stroke" transform="translate(351.45,367.95) scale(10.400,13.100)" d="M0,0 L1,0 M0.5,0 L0.5,1"/><path vector-effect="non-scaling-stroke" transform="translate(364.75,367.95) scale(7.700,13.100)" d="M0,1 L0,0 L0.62,0 C0.9,0 1,0.12 1,0.26 C1,0.4 0.9,0.52 0.62,0.52 L0,0.52 M0.55,0.52 L1,1"/><path vector-effect="non-scaling-stroke" transform="translate(376.95,367.95) scale(0.010,13.100)" d="M0,0 L0,1"/><path vector-effect="non-scaling-stroke" transform="translate(381.75,367.95) scale(7.700,13.100)" d="M0,1 L0,0 L0.62,0 C0.9,0 1,0.13 1,0.27 C1,0.42 0.9,0.54 0.62,0.54 L0,0.54"/></g><g fill="none" stroke="#7c4f40" stroke-width="1.3" vector-effect="non-scaling-stroke" stroke-linejoin="round" stroke-linecap="round"><path vector-effect="non-scaling-stroke" transform="translate(249.75,464.45) scale(8.850,13.100)" d="M0,0 L0,1 L0.42,1 C0.82,1 1,0.76 1,0.5 C1,0.24 0.82,0 0.42,0 Z"/><path vector-effect="non-scaling-stroke" transform="translate(262.55,464.45) scale(9.900,13.100)" d="M0.5,0 C0.8,0 1,0.24 1,0.5 C1,0.76 0.8,1 0.5,1 C0.2,1 0,0.76 0,0.5 C0,0.24 0.2,0 0.5,0 Z"/><path vector-effect="non-scaling-stroke" transform="translate(276.40,464.45) scale(9.950,13.100)" d="M0.5,0 C0.8,0 1,0.24 1,0.5 C1,0.76 0.8,1 0.5,1 C0.2,1 0,0.76 0,0.5 C0,0.24 0.2,0 0.5,0 Z"/><path vector-effect="non-scaling-stroke" transform="translate(289.90,464.45) scale(8.450,13.100)" d="M0,1 L0,0 L0.62,0 C0.9,0 1,0.12 1,0.26 C1,0.4 0.9,0.52 0.62,0.52 L0,0.52 M0.55,0.52 L1,1"/><path vector-effect="non-scaling-stroke" transform="translate(314.45,464.45) scale(6.150,13.100)" d="M0,0 L0,1 L1,1"/><path vector-effect="non-scaling-stroke" transform="translate(325.05,464.45) scale(7.300,13.100)" d="M1,0 L0,0 L0,1 L1,1 M0,0.48 L0.85,0.48"/><path vector-effect="non-scaling-stroke" transform="translate(334.65,464.45) scale(11.450,13.100)" d="M0,1 L0.5,0 L1,1 M0.18,0.66 L0.82,0.66"/><path vector-effect="non-scaling-stroke" transform="translate(350.05,464.45) scale(7.200,13.100)" d="M1,0 L0,0 L0,1 M0,0.48 L0.85,0.48"/></g><g fill="none" stroke="#7c4f40" stroke-width="1.3" vector-effect="non-scaling-stroke" stroke-linejoin="round" stroke-linecap="round"><path vector-effect="non-scaling-stroke" transform="translate(668.05,338.45) scale(0.010,13.100)" d="M0,0 L0,1"/><path vector-effect="non-scaling-stroke" transform="translate(672.35,338.45) scale(9.300,13.100)" d="M0,1 L0,0 L1,1 L1,0"/><path vector-effect="non-scaling-stroke" transform="translate(686.65,338.45) scale(8.300,13.100)" d="M1,0.16 C0.9,0.05 0.74,0 0.5,0 C0.2,0 0.03,0.1 0.03,0.26 C0.03,0.42 0.2,0.47 0.5,0.5 C0.82,0.53 1,0.6 1,0.76 C1,0.92 0.8,1 0.5,1 C0.25,1 0.08,0.95 0,0.84"/><path vector-effect="non-scaling-stroke" transform="translate(698.35,338.45) scale(9.400,13.100)" d="M0,0 L1,0 M0.5,0 L0.5,1"/><path vector-effect="non-scaling-stroke" transform="translate(710.05,338.45) scale(10.900,13.100)" d="M0,1 L0.5,0 L1,1 M0.18,0.66 L0.82,0.66"/><path vector-effect="non-scaling-stroke" transform="translate(723.65,338.45) scale(6.700,13.100)" d="M0,0 L0,1 L1,1"/><path vector-effect="non-scaling-stroke" transform="translate(733.65,338.45) scale(6.700,13.100)" d="M0,0 L0,1 L1,1"/><path vector-effect="non-scaling-stroke" transform="translate(756.05,338.45) scale(9.800,13.100)" d="M1,0.2 C0.9,0.06 0.72,0 0.55,0 C0.2,0 0,0.25 0,0.5 C0,0.75 0.2,1 0.55,1 C0.72,1 0.9,0.94 1,0.8 L1,0.56 L0.6,0.56"/><path vector-effect="non-scaling-stroke" transform="translate(768.25,338.45) scale(10.900,13.100)" d="M0,1 L0.5,0 L1,1 M0.18,0.66 L0.82,0.66"/><path vector-effect="non-scaling-stroke" transform="translate(782.65,338.45) scale(8.200,13.100)" d="M0,1 L0,0 L0.62,0 C0.9,0 1,0.13 1,0.27 C1,0.42 0.9,0.54 0.62,0.54 L0,0.54"/></g><g fill="none" stroke="#30306e" stroke-width="1.6" vector-effect="non-scaling-stroke" stroke-linejoin="round" stroke-linecap="round"><path vector-effect="non-scaling-stroke" transform="translate(322.30,504.10) scale(13.400,16.100)" d="M0,0 L0.24,1 L0.5,0.05 L0.76,1 L1,0"/><path vector-effect="non-scaling-stroke" transform="translate(340.90,504.10) scale(0.010,16.100)" d="M0,0 L0,1"/><path vector-effect="non-scaling-stroke" transform="translate(346.30,504.10) scale(10.900,16.100)" d="M0,0 L0,1 L0.42,1 C0.82,1 1,0.76 1,0.5 C1,0.24 0.82,0 0.42,0 Z"/><path vector-effect="non-scaling-stroke" transform="translate(362.80,504.10) scale(9.900,16.100)" d="M0,0 L1,0 M0.5,0 L0.5,1"/><path vector-effect="non-scaling-stroke" transform="translate(376.80,504.10) scale(10.400,16.100)" d="M0,0 L0,1 M1,0 L1,1 M0,0.48 L1,0.48"/></g><g fill="none" stroke="#30306e" stroke-width="1.6" vector-effect="non-scaling-stroke" stroke-linejoin="round" stroke-linecap="round"><path vector-effect="non-scaling-stroke" transform="translate(644.40,456.30) scale(10.800,16.500)" d="M0,0 L0,1 L0.42,1 C0.82,1 1,0.76 1,0.5 C1,0.24 0.82,0 0.42,0 Z"/><path vector-effect="non-scaling-stroke" transform="translate(660.80,456.30) scale(9.000,16.500)" d="M1,0 L0,0 L0,1 L1,1 M0,0.48 L0.85,0.48"/><path vector-effect="non-scaling-stroke" transform="translate(675.40,456.30) scale(9.600,16.500)" d="M0,1 L0,0 L0.62,0 C0.9,0 1,0.13 1,0.27 C1,0.42 0.9,0.54 0.62,0.54 L0,0.54"/><path vector-effect="non-scaling-stroke" transform="translate(690.00,456.30) scale(11.300,16.500)" d="M0,0 L1,0 M0.5,0 L0.5,1"/><path vector-effect="non-scaling-stroke" transform="translate(705.20,456.30) scale(10.750,16.500)" d="M0,0 L0,1 M1,0 L1,1 M0,0.48 L1,0.48"/></g>
</svg>
</body></html>
